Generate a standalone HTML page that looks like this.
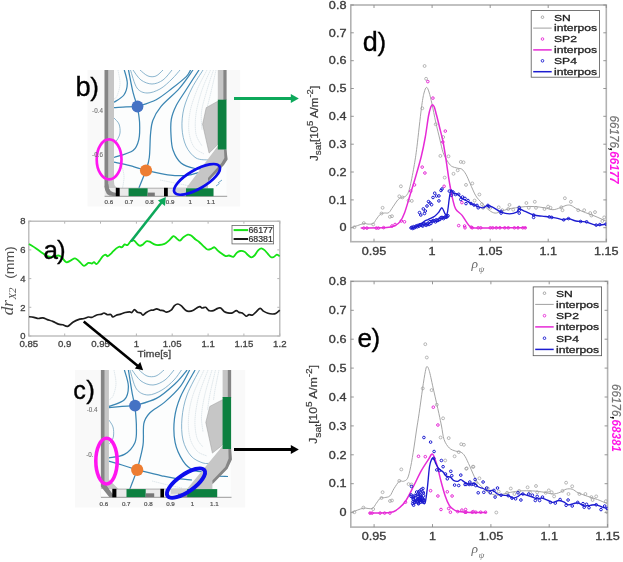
<!DOCTYPE html>
<html><head><meta charset="utf-8"><title>figure</title>
<style>
html,body{margin:0;padding:0;background:#fff;}
body{width:623px;height:562px;overflow:hidden;font-family:"Liberation Sans",sans-serif;}
svg{display:block;}
</style></head>
<body>
<svg width="623" height="562" viewBox="0 0 623 562">
<defs><filter id="soft" x="-2%" y="-2%" width="104%" height="104%"><feGaussianBlur stdDeviation="0.68"/></filter></defs>
<rect width="623" height="562" fill="#fff"/>
<g filter="url(#soft)">
<rect x="28.8" y="221.2" width="251.0" height="114.80000000000001" fill="#fff" stroke="#b6b6b6" stroke-width="1.3"/>
<path d="M28.8,336.0 v-2.5 M28.8,221.2 v2.5" stroke="#b6b6b6" stroke-width="1"/>
<path d="M64.7,336.0 v-2.5 M64.7,221.2 v2.5" stroke="#b6b6b6" stroke-width="1"/>
<path d="M100.5,336.0 v-2.5 M100.5,221.2 v2.5" stroke="#b6b6b6" stroke-width="1"/>
<path d="M136.4,336.0 v-2.5 M136.4,221.2 v2.5" stroke="#b6b6b6" stroke-width="1"/>
<path d="M172.2,336.0 v-2.5 M172.2,221.2 v2.5" stroke="#b6b6b6" stroke-width="1"/>
<path d="M208.1,336.0 v-2.5 M208.1,221.2 v2.5" stroke="#b6b6b6" stroke-width="1"/>
<path d="M243.9,336.0 v-2.5 M243.9,221.2 v2.5" stroke="#b6b6b6" stroke-width="1"/>
<path d="M279.8,336.0 v-2.5 M279.8,221.2 v2.5" stroke="#b6b6b6" stroke-width="1"/>
<path d="M28.8,336.0 h2.5 M279.8,336.0 h-2.5" stroke="#b6b6b6" stroke-width="1"/>
<text transform="translate(25.6,339.2) scale(1.05,1)" font-family="Liberation Sans" font-size="9" fill="#444" stroke="#444" stroke-width="0.3" text-anchor="end" font-weight="normal" font-style="normal" >0</text>
<path d="M28.8,307.3 h2.5 M279.8,307.3 h-2.5" stroke="#b6b6b6" stroke-width="1"/>
<text transform="translate(25.6,310.5) scale(1.05,1)" font-family="Liberation Sans" font-size="9" fill="#444" stroke="#444" stroke-width="0.3" text-anchor="end" font-weight="normal" font-style="normal" >2</text>
<path d="M28.8,278.6 h2.5 M279.8,278.6 h-2.5" stroke="#b6b6b6" stroke-width="1"/>
<text transform="translate(25.6,281.8) scale(1.05,1)" font-family="Liberation Sans" font-size="9" fill="#444" stroke="#444" stroke-width="0.3" text-anchor="end" font-weight="normal" font-style="normal" >4</text>
<path d="M28.8,249.9 h2.5 M279.8,249.9 h-2.5" stroke="#b6b6b6" stroke-width="1"/>
<text transform="translate(25.6,253.1) scale(1.05,1)" font-family="Liberation Sans" font-size="9" fill="#444" stroke="#444" stroke-width="0.3" text-anchor="end" font-weight="normal" font-style="normal" >6</text>
<path d="M28.8,221.2 h2.5 M279.8,221.2 h-2.5" stroke="#b6b6b6" stroke-width="1"/>
<text transform="translate(25.6,224.4) scale(1.05,1)" font-family="Liberation Sans" font-size="9" fill="#444" stroke="#444" stroke-width="0.3" text-anchor="end" font-weight="normal" font-style="normal" >8</text>
<text transform="translate(28.8,346.6) scale(1.07,1)" font-family="Liberation Sans" font-size="9" fill="#444" stroke="#444" stroke-width="0.3" text-anchor="middle" font-weight="normal" font-style="normal" >0.85</text>
<text transform="translate(64.7,346.6) scale(1.07,1)" font-family="Liberation Sans" font-size="9" fill="#444" stroke="#444" stroke-width="0.3" text-anchor="middle" font-weight="normal" font-style="normal" >0.9</text>
<text transform="translate(100.5,346.6) scale(1.07,1)" font-family="Liberation Sans" font-size="9" fill="#444" stroke="#444" stroke-width="0.3" text-anchor="middle" font-weight="normal" font-style="normal" >0.95</text>
<text transform="translate(136.4,346.6) scale(1.07,1)" font-family="Liberation Sans" font-size="9" fill="#444" stroke="#444" stroke-width="0.3" text-anchor="middle" font-weight="normal" font-style="normal" >1</text>
<text transform="translate(172.2,346.6) scale(1.07,1)" font-family="Liberation Sans" font-size="9" fill="#444" stroke="#444" stroke-width="0.3" text-anchor="middle" font-weight="normal" font-style="normal" >1.05</text>
<text transform="translate(208.1,346.6) scale(1.07,1)" font-family="Liberation Sans" font-size="9" fill="#444" stroke="#444" stroke-width="0.3" text-anchor="middle" font-weight="normal" font-style="normal" >1.1</text>
<text transform="translate(243.9,346.6) scale(1.07,1)" font-family="Liberation Sans" font-size="9" fill="#444" stroke="#444" stroke-width="0.3" text-anchor="middle" font-weight="normal" font-style="normal" >1.15</text>
<text transform="translate(279.8,346.6) scale(1.07,1)" font-family="Liberation Sans" font-size="9" fill="#444" stroke="#444" stroke-width="0.3" text-anchor="middle" font-weight="normal" font-style="normal" >1.2</text>
<text transform="translate(154.3,356.6) scale(1.15,1)" font-family="Liberation Sans" font-size="9" fill="#444" stroke="#444" stroke-width="0.3" text-anchor="middle" font-weight="normal" font-style="normal" >Time[s]</text>
<g transform="translate(12.9,281) rotate(-90)" fill="#505050"><text x="-34.3" y="0" font-family="Liberation Serif" font-style="italic" font-size="17.2">dr</text><text x="-18.6" y="3.3" font-family="Liberation Serif" font-style="italic" font-size="10.8">X2</text><text x="2.2" y="1.4" font-family="Liberation Sans" font-size="13.2" textLength="32.6" lengthAdjust="spacingAndGlyphs">(mm)</text></g>
<path d="M29.0,243.9 C30.2,244.7 33.8,246.8 36.1,248.4 C38.4,250.0 40.9,252.0 42.8,253.3 C44.7,254.6 45.6,255.6 47.3,256.2 C49.0,256.8 50.9,257.0 52.8,256.9 C54.6,256.8 56.9,255.4 58.4,255.5 C59.9,255.6 60.4,256.2 61.7,257.3 C63.0,258.4 64.7,261.6 66.2,262.2 C67.7,262.8 69.1,261.2 70.6,260.6 C72.1,260.0 73.6,258.2 75.1,258.4 C76.6,258.6 78.0,260.5 79.5,261.7 C81.0,262.9 82.5,265.6 84.0,265.8 C85.5,266.0 87.1,263.3 88.4,262.9 C89.7,262.5 90.9,263.6 91.8,263.5 C92.7,263.4 93.2,262.1 94.0,262.2 C94.8,262.3 95.8,264.3 96.7,264.0 C97.6,263.7 98.6,261.9 99.6,260.6 C100.6,259.3 101.9,257.2 102.9,256.2 C103.9,255.2 104.8,254.6 105.6,254.6 C106.4,254.6 106.8,256.5 107.8,256.2 C108.8,255.9 110.4,254.1 111.8,252.8 C113.2,251.5 115.0,249.4 116.3,248.4 C117.6,247.4 118.7,246.8 119.6,246.6 C120.5,246.4 120.9,247.7 121.8,247.3 C122.7,246.9 123.8,244.8 124.7,244.4 C125.6,244.0 126.4,245.6 127.4,245.1 C128.4,244.6 129.6,242.1 130.7,241.3 C131.8,240.6 133.2,240.3 134.1,240.6 C135.0,240.8 135.4,242.0 136.3,242.8 C137.2,243.7 138.5,245.4 139.6,245.7 C140.7,246.0 141.9,245.1 143.0,244.4 C144.1,243.7 145.2,241.8 146.3,241.3 C147.4,240.9 148.3,241.2 149.7,241.7 C151.0,242.2 152.9,243.8 154.4,244.4 C155.9,245.0 157.2,245.1 158.9,245.0 C160.6,244.9 162.8,244.6 164.5,243.9 C166.2,243.2 167.4,241.9 168.9,240.6 C170.4,239.3 172.1,236.5 173.4,236.1 C174.7,235.7 175.6,237.7 176.7,238.4 C177.8,239.2 178.9,240.8 180.0,240.6 C181.1,240.4 182.1,238.2 183.4,237.2 C184.7,236.2 186.5,234.9 187.8,234.6 C189.1,234.3 189.8,234.7 191.1,235.5 C192.4,236.3 194.3,238.5 195.6,239.5 C196.9,240.5 197.6,240.6 198.9,241.7 C200.2,242.8 202.0,244.8 203.4,246.1 C204.8,247.4 206.1,249.1 207.4,249.5 C208.7,249.9 210.0,249.2 211.2,248.8 C212.4,248.4 213.4,247.0 214.5,247.3 C215.6,247.6 216.7,249.6 217.8,250.6 C218.9,251.6 219.9,252.4 221.2,253.3 C222.5,254.2 224.3,255.7 225.6,256.1 C226.9,256.5 227.7,255.4 229.0,255.5 C230.3,255.6 232.1,257.2 233.4,256.8 C234.7,256.4 235.6,253.8 236.7,252.8 C237.8,251.8 238.8,251.2 240.1,251.0 C241.4,250.8 243.2,251.0 244.5,251.7 C245.8,252.4 246.8,254.1 247.9,255.0 C249.0,255.9 250.1,257.2 251.2,257.3 C252.3,257.4 253.4,256.6 254.5,255.5 C255.6,254.4 256.8,251.8 257.9,250.6 C259.0,249.4 260.1,248.5 261.2,248.4 C262.3,248.3 263.4,249.2 264.5,250.1 C265.6,251.0 266.8,252.7 267.9,253.9 C269.0,255.1 270.2,256.8 271.2,257.3 C272.2,257.8 273.2,257.2 274.1,256.8 C275.0,256.4 275.9,254.7 276.8,254.6 C277.7,254.5 279.2,255.9 279.7,256.1" fill="none" stroke="#12e212" stroke-width="1.8" stroke-linejoin="round"/>
<path d="M29.0,316.7 C29.8,316.8 32.3,317.1 33.9,317.4 C35.5,317.7 36.9,318.4 38.4,318.5 C39.9,318.6 41.3,317.7 42.8,317.9 C44.3,318.1 45.6,319.0 47.3,319.6 C49.0,320.2 50.9,320.6 52.8,321.4 C54.6,322.1 56.7,323.5 58.4,324.1 C60.1,324.7 61.2,324.4 62.8,324.8 C64.3,325.2 66.0,326.7 67.7,326.3 C69.4,325.9 71.1,323.4 72.9,322.3 C74.7,321.2 76.6,320.2 78.4,319.6 C80.2,319.0 82.3,318.9 84.0,318.5 C85.7,318.1 87.1,317.2 88.4,317.0 C89.7,316.8 90.5,317.7 91.8,317.4 C93.1,317.1 94.5,315.8 96.2,315.2 C97.9,314.6 100.5,314.5 101.8,314.1 C103.1,313.7 103.1,312.9 104.0,313.0 C104.9,313.1 106.3,314.4 107.4,314.7 C108.5,314.9 109.8,314.1 110.7,314.5 C111.6,314.9 112.0,316.9 112.9,317.0 C113.8,317.1 115.0,315.7 116.3,315.2 C117.6,314.7 119.2,314.6 120.7,314.1 C122.2,313.7 123.7,312.9 125.2,312.5 C126.7,312.1 128.5,311.8 129.6,311.8 C130.7,311.8 131.1,312.9 131.9,312.5 C132.7,312.1 133.6,309.6 134.5,309.6 C135.4,309.6 136.3,311.7 137.4,312.3 C138.5,312.9 139.9,312.5 140.8,313.0 C141.7,313.5 142.1,315.3 143.0,315.2 C143.9,315.1 145.0,313.3 146.3,312.5 C147.6,311.7 149.6,310.7 150.8,310.3 C152.0,309.9 152.3,310.4 153.3,310.2 C154.3,310.0 155.6,308.9 156.7,308.9 C157.8,308.9 158.9,309.9 160.0,310.2 C161.1,310.5 162.2,310.3 163.3,310.6 C164.4,310.9 165.4,312.3 166.7,312.2 C168.0,312.1 169.8,311.3 171.1,310.2 C172.4,309.1 173.4,306.7 174.5,305.7 C175.6,304.7 176.7,304.0 177.8,304.0 C178.9,304.0 179.8,304.7 181.1,305.7 C182.4,306.7 184.3,309.3 185.6,310.2 C186.9,311.1 187.6,311.3 188.9,311.3 C190.2,311.3 191.9,310.9 193.4,310.2 C194.9,309.5 196.7,307.9 197.8,307.3 C198.9,306.7 199.2,306.5 200.0,306.6 C200.8,306.7 201.4,307.9 202.3,308.0 C203.2,308.1 204.5,306.9 205.6,307.3 C206.7,307.7 207.6,310.1 208.9,310.6 C210.2,311.2 211.9,311.0 213.4,310.6 C214.9,310.2 216.6,308.8 217.8,308.4 C219.0,308.0 219.6,307.4 220.7,308.0 C221.8,308.6 223.3,311.0 224.5,311.8 C225.7,312.6 226.5,312.7 227.8,312.9 C229.1,313.1 230.9,313.3 232.3,312.9 C233.7,312.5 235.2,310.7 236.3,310.6 C237.4,310.5 238.0,312.0 239.0,312.4 C240.0,312.8 241.1,312.3 242.3,312.9 C243.5,313.5 245.0,315.9 246.1,316.2 C247.2,316.5 248.0,314.8 249.0,314.6 C250.0,314.4 251.2,315.5 252.3,315.1 C253.4,314.7 254.3,313.5 255.6,312.4 C256.9,311.3 258.8,308.6 260.1,308.4 C261.4,308.2 262.1,310.3 263.4,311.1 C264.7,311.9 266.4,312.8 267.9,313.3 C269.4,313.8 271.0,314.0 272.3,314.0 C273.6,314.0 274.5,314.1 275.7,313.5 C276.9,312.9 279.0,310.8 279.7,310.2" fill="none" stroke="#1c1c1c" stroke-width="1.7" stroke-linejoin="round"/>
<rect x="232" y="225.5" width="41.6" height="18.4" fill="#fff" stroke="#666" stroke-width="0.8"/>
<path d="M233.6,230.1 H248" stroke="#12e212" stroke-width="2"/>
<path d="M233.6,239 H248" stroke="#1c1c1c" stroke-width="2"/>
<text transform="translate(248.4,233.1) scale(1.07,1)" font-family="Liberation Sans" font-size="8.2" fill="#333" stroke="#333" stroke-width="0.22" text-anchor="start" font-weight="normal" font-style="normal" >66177</text>
<text transform="translate(248.4,242.0) scale(1.07,1)" font-family="Liberation Sans" font-size="8.2" fill="#333" stroke="#333" stroke-width="0.22" text-anchor="start" font-weight="normal" font-style="normal" >68381</text>
<clipPath id="clipb"><rect x="108" y="70" width="116" height="126"/></clipPath>
<rect x="87.5" y="70" width="152.7" height="136.5" fill="#f9f9f9"/>
<rect x="104.6" y="70" width="121.9" height="126" fill="#fcfdfd"/>
<g clip-path="url(#clipb)">
<path d="M207.0,70.0 C205.3,73.3 199.8,83.0 197.0,90.0 C194.2,97.0 191.3,105.0 190.0,112.0 C188.7,119.0 188.3,126.2 189.0,132.0 C189.7,137.8 191.5,143.3 194.0,147.0 C196.5,150.7 202.3,152.8 204.0,154.0" fill="none" stroke="#b4c4cf" stroke-width="0.8" stroke-dasharray="1.6 0.5" opacity="0.48"/>
<path d="M210.5,70.0 C209.1,73.3 204.4,82.7 202.0,90.0 C199.6,97.3 197.0,106.7 196.0,114.0 C195.0,121.3 195.0,128.7 196.0,134.0 C197.0,139.3 201.0,144.0 202.0,146.0" fill="none" stroke="#b4c4cf" stroke-width="0.8" stroke-dasharray="1.6 0.5" opacity="0.48"/>
<path d="M213.5,70.0 C212.4,73.3 209.0,83.0 207.0,90.0 C205.0,97.0 202.3,105.3 201.5,112.0 C200.7,118.7 201.9,127.0 202.0,130.0" fill="none" stroke="#b4c4cf" stroke-width="0.8" stroke-dasharray="1.6 0.5" opacity="0.48"/>
<path d="M216.0,70.0 C215.2,73.7 212.5,85.7 211.0,92.0 C209.5,98.3 207.7,105.3 207.0,108.0" fill="none" stroke="#b4c4cf" stroke-width="0.8" stroke-dasharray="1.6 0.5" opacity="0.48"/>
<path d="M118.0,70.0 C118.3,72.3 120.2,79.7 120.0,84.0 C119.8,88.3 118.0,93.5 117.0,96.0 C116.0,98.5 114.5,98.5 114.0,99.0" fill="none" stroke="#b4c4cf" stroke-width="0.8" stroke-dasharray="1.6 0.5" opacity="0.48"/>
<path d="M121.0,196.0 C121.5,193.0 123.8,183.0 124.0,178.0 C124.2,173.0 122.3,168.0 122.0,166.0" fill="none" stroke="#b4c4cf" stroke-width="0.8" stroke-dasharray="1.6 0.5" opacity="0.48"/>
<path d="M160.0,180.0 C162.5,180.5 170.0,182.0 175.0,183.0 C180.0,184.0 187.5,185.5 190.0,186.0" fill="none" stroke="#b4c4cf" stroke-width="0.8" stroke-dasharray="1.6 0.5" opacity="0.48"/>
<path d="M133.0,70.0 C134.3,71.7 137.8,77.7 141.0,80.0 C144.2,82.3 148.3,84.0 152.0,84.0 C155.7,84.0 159.7,82.3 163.0,80.0 C166.3,77.7 170.5,71.7 172.0,70.0" fill="none" stroke="#6fa3c2" stroke-width="0.9" opacity="0.9"/>
<path d="M140.0,70.0 C141.3,71.0 145.3,75.0 148.0,76.0 C150.7,77.0 153.5,77.0 156.0,76.0 C158.5,75.0 161.8,71.0 163.0,70.0" fill="none" stroke="#6fa3c2" stroke-width="0.9" opacity="0.9"/>
<path d="M130.5,70.0 C131.6,73.0 134.2,84.2 137.0,88.0 C139.8,91.8 143.2,92.8 147.0,93.0 C150.8,93.2 155.8,91.3 160.0,89.0 C164.2,86.7 168.7,82.2 172.0,79.0 C175.3,75.8 178.7,71.5 180.0,70.0" fill="none" stroke="#6fa3c2" stroke-width="0.9" opacity="0.9"/>
<path d="M114.0,118.0 C114.8,119.0 118.0,121.5 119.0,124.0 C120.0,126.5 120.3,130.3 120.0,133.0 C119.7,135.7 118.0,138.3 117.0,140.0 C116.0,141.7 114.5,142.5 114.0,143.0" fill="none" stroke="#6fa3c2" stroke-width="0.9" opacity="0.9"/>
<path d="M203.0,70.0 C201.2,73.0 195.2,81.7 192.0,88.0 C188.8,94.3 185.7,101.3 184.0,108.0 C182.3,114.7 181.7,121.7 182.0,128.0 C182.3,134.3 183.7,141.0 186.0,146.0 C188.3,151.0 192.2,155.7 196.0,158.0 C199.8,160.3 206.8,159.7 209.0,160.0" fill="none" stroke="#6fa3c2" stroke-width="0.9" opacity="0.9"/>
<path d="M124.3,70.0 C124.8,72.2 127.4,79.3 127.3,83.5 C127.2,87.7 126.1,91.9 123.9,95.0 C121.7,98.1 115.7,101.1 114.0,102.3" fill="none" stroke="#3b86b3" stroke-width="1.25"/>
<path d="M128.5,70.0 C129.3,73.8 131.6,86.6 133.1,92.7 C134.6,98.8 136.8,104.2 137.5,106.5" fill="none" stroke="#3b86b3" stroke-width="1.25"/>
<path d="M137.5,106.5 C135.6,106.5 129.9,106.6 126.0,106.8 C122.1,107.0 116.0,107.5 114.0,107.6" fill="none" stroke="#3b86b3" stroke-width="1.25"/>
<path d="M137.5,106.5 C140.6,105.4 150.4,102.8 156.2,99.7 C162.0,96.6 167.4,91.9 172.4,88.1 C177.4,84.2 183.3,79.6 186.3,76.6 C189.3,73.6 189.9,71.1 190.6,70.0" fill="none" stroke="#3b86b3" stroke-width="1.25"/>
<path d="M137.5,106.5 C137.8,109.2 139.4,117.4 139.6,122.8 C139.8,128.2 140.0,134.4 138.9,139.0 C137.8,143.6 137.2,147.4 133.1,150.5 C128.9,153.6 117.2,156.3 114.0,157.5" fill="none" stroke="#3b86b3" stroke-width="1.25"/>
<path d="M146.0,170.5 C143.3,169.7 135.3,167.0 130.0,165.6 C124.7,164.2 116.7,162.7 114.0,162.1" fill="none" stroke="#3b86b3" stroke-width="1.25"/>
<path d="M146.0,170.5 C149.6,171.2 161.1,174.0 167.8,174.8 C174.5,175.6 180.8,176.0 186.3,175.5 C191.8,175.0 198.6,172.6 201.0,172.0" fill="none" stroke="#3b86b3" stroke-width="1.25"/>
<path d="M146.0,170.5 L138.9,188.0" fill="none" stroke="#3b86b3" stroke-width="1.25"/>
<path d="M146.0,170.5 C146.6,168.3 148.6,163.5 149.3,157.5 C150.1,151.5 149.9,140.6 150.5,134.4 C151.1,128.2 151.1,125.1 152.8,120.5 C154.5,115.9 156.5,111.9 160.9,106.6 C165.3,101.2 174.1,94.5 179.4,88.4 C184.8,82.3 190.7,73.1 193.0,70.0" fill="none" stroke="#3b86b3" stroke-width="1.25"/>
<path d="M199.0,70.0 C196.8,73.3 189.8,84.0 186.0,90.0 C182.2,96.0 178.4,101.1 176.0,106.0 C173.6,110.9 172.1,114.5 171.3,119.3 C170.5,124.1 170.7,129.9 171.0,135.0 C171.3,140.1 171.3,145.3 173.0,150.0 C174.7,154.7 177.3,159.9 181.0,163.0 C184.7,166.1 190.7,167.6 195.0,168.5 C199.3,169.4 205.1,168.6 207.1,168.6" fill="none" stroke="#3b86b3" stroke-width="1.25"/>
</g>
<path d="M104.6,70 H114 V182 Q114,188 120,188 H128 V196 H112 Q104.6,196 104.6,186 Z" fill="#c6c6c6"/>
<path d="M104.6,70 H108.2 V184 Q108.2,192.5 117,193 V196 H113 Q104.6,196 104.6,186 Z" fill="#858585"/>
<rect x="104.6" y="188" width="109" height="8.2" fill="#eaeaea"/>
<path d="M120,188.2 H186" stroke="#a8a8a8" stroke-width="0.9"/>
<path d="M104.6,196.3 H227.2" stroke="#9a9a9a" stroke-width="1"/>
<path d="M104.6,186 Q104.6,196 113,196 L117,196 L117,193 Q108.2,192.5 108.2,184 Z" fill="#858585"/>
<rect x="115.8" y="187.8" width="3.9" height="8.4" fill="#000"/>
<rect x="128.6" y="188.3" width="19" height="7.8" fill="#0b8040"/>
<rect x="147.6" y="192.6" width="7.2" height="3.5" fill="#777"/>
<rect x="164" y="187.8" width="3.8" height="8.5" fill="#000"/>
<rect x="174.5" y="188.3" width="11.7" height="4.6" fill="#d0d0d0"/>
<rect x="217.8" y="70" width="8.7" height="30" fill="#c6c6c6"/>
<rect x="223.4" y="70" width="3.1" height="30" fill="#858585"/>
<path d="M217.8,101.2 L206.2,107.7 L202.6,124.3 L209.1,153.1 L217.8,144.5 Z" fill="#c6c6c6" stroke="#999" stroke-width="0.5"/>
<path d="M217.8,146 L226.5,149.5 L227.3,159 L223.6,164 L208,180.5 L208,188.2 L186,188.2 Z" fill="#c6c6c6"/>
<path d="M226.5,149.5 L227.6,159.5 L224,165 L208,181.5 L208,178 L221.5,163 L224.4,158 L224,149.5 Z" fill="#858585"/>
<rect x="217.8" y="99.7" width="8.7" height="49.8" fill="#0b8040"/>
<rect x="186" y="188.3" width="27.5" height="7.9" fill="#0b8040"/>
<path d="M218,183 L222,180 M216,186 L219.5,183.5" stroke="#4f93bb" stroke-width="0.8"/>
<circle cx="137.5" cy="106.5" r="5.9" fill="#4472c4"/>
<circle cx="146" cy="170.5" r="6.1" fill="#ed7d31"/>
<ellipse cx="109.1" cy="159.4" rx="12.4" ry="20" fill="none" stroke="#ff19f0" stroke-width="2.7"/>
<ellipse cx="0" cy="0" rx="26" ry="9.4" transform="translate(197,179.4) rotate(-30)" fill="none" stroke="#0a0aee" stroke-width="2.7"/>
<text transform="translate(108.9,204.4)" font-family="Liberation Sans" font-size="6.2" fill="#555" stroke="#555" stroke-width="0.22" text-anchor="middle" font-weight="normal" font-style="normal" >0.6</text>
<text transform="translate(129.0,204.4)" font-family="Liberation Sans" font-size="6.2" fill="#555" stroke="#555" stroke-width="0.22" text-anchor="middle" font-weight="normal" font-style="normal" >0.7</text>
<text transform="translate(149.5,204.4)" font-family="Liberation Sans" font-size="6.2" fill="#555" stroke="#555" stroke-width="0.22" text-anchor="middle" font-weight="normal" font-style="normal" >0.8</text>
<text transform="translate(170.1,204.4)" font-family="Liberation Sans" font-size="6.2" fill="#555" stroke="#555" stroke-width="0.22" text-anchor="middle" font-weight="normal" font-style="normal" >0.9</text>
<text transform="translate(190.3,204.4)" font-family="Liberation Sans" font-size="6.2" fill="#555" stroke="#555" stroke-width="0.22" text-anchor="middle" font-weight="normal" font-style="normal" >1</text>
<text transform="translate(211.0,204.4)" font-family="Liberation Sans" font-size="6.2" fill="#555" stroke="#555" stroke-width="0.22" text-anchor="middle" font-weight="normal" font-style="normal" >1.1</text>
<text transform="translate(97.5,113.4)" font-family="Liberation Sans" font-size="6.3" fill="#707070" stroke="#707070" stroke-width="0.1" text-anchor="middle" font-weight="normal" font-style="normal" >-0.4</text>
<text transform="translate(97.5,157.0)" font-family="Liberation Sans" font-size="6.3" fill="#707070" stroke="#707070" stroke-width="0.1" text-anchor="middle" font-weight="normal" font-style="normal" >-0.6</text>
<clipPath id="clipc"><rect x="104.5" y="370" width="124" height="127"/></clipPath>
<rect x="75" y="370" width="170.2" height="137.5" fill="#f9f9f9"/>
<rect x="100.9" y="370" width="130.2" height="127" fill="#fcfdfd"/>
<g clip-path="url(#clipc)">
<path d="M204.0,370.0 C202.2,374.2 195.6,387.0 193.0,395.0 C190.4,403.0 189.0,410.8 188.5,418.0 C188.0,425.2 188.6,432.5 190.0,438.0 C191.4,443.5 194.2,448.0 197.0,451.0 C199.8,454.0 205.3,455.2 207.0,456.0" fill="none" stroke="#b4c4cf" stroke-width="0.8" stroke-dasharray="1.6 0.5" opacity="0.48"/>
<path d="M208.0,370.0 C206.5,374.2 201.2,386.7 199.0,395.0 C196.8,403.3 195.3,412.8 195.0,420.0 C194.7,427.2 195.7,433.5 197.0,438.0 C198.3,442.5 202.0,445.5 203.0,447.0" fill="none" stroke="#b4c4cf" stroke-width="0.8" stroke-dasharray="1.6 0.5" opacity="0.48"/>
<path d="M212.0,370.0 C210.8,374.0 206.8,386.3 205.0,394.0 C203.2,401.7 201.8,409.7 201.5,416.0 C201.2,422.3 202.8,429.3 203.0,432.0" fill="none" stroke="#b4c4cf" stroke-width="0.8" stroke-dasharray="1.6 0.5" opacity="0.48"/>
<path d="M215.5,370.0 C214.6,374.0 211.3,387.3 210.0,394.0 C208.7,400.7 207.9,407.3 207.5,410.0" fill="none" stroke="#b4c4cf" stroke-width="0.8" stroke-dasharray="1.6 0.5" opacity="0.48"/>
<path d="M219.0,370.0 C218.3,373.3 215.9,385.0 215.0,390.0 C214.1,395.0 213.8,398.3 213.5,400.0" fill="none" stroke="#b4c4cf" stroke-width="0.8" stroke-dasharray="1.6 0.5" opacity="0.48"/>
<path d="M114.0,370.0 C114.3,372.3 116.2,379.7 116.0,384.0 C115.8,388.3 114.2,393.3 113.0,396.0 C111.8,398.7 109.6,399.3 108.9,400.0" fill="none" stroke="#b4c4cf" stroke-width="0.8" stroke-dasharray="1.6 0.5" opacity="0.48"/>
<path d="M152.0,481.0 C154.7,481.7 163.0,483.8 168.0,485.0 C173.0,486.2 179.7,487.5 182.0,488.0" fill="none" stroke="#b4c4cf" stroke-width="0.8" stroke-dasharray="1.6 0.5" opacity="0.48"/>
<path d="M132.0,370.0 C133.5,371.8 137.5,378.5 141.0,381.0 C144.5,383.5 149.0,385.2 153.0,385.0 C157.0,384.8 161.5,382.5 165.0,380.0 C168.5,377.5 172.5,371.7 174.0,370.0" fill="none" stroke="#6fa3c2" stroke-width="0.9" opacity="0.9"/>
<path d="M139.0,370.0 C140.3,371.0 144.2,375.0 147.0,376.0 C149.8,377.0 153.2,377.0 156.0,376.0 C158.8,375.0 162.7,371.0 164.0,370.0" fill="none" stroke="#6fa3c2" stroke-width="0.9" opacity="0.9"/>
<path d="M130.0,370.0 C131.1,373.2 133.5,384.8 136.5,389.0 C139.5,393.2 143.8,394.8 148.0,395.0 C152.2,395.2 157.7,392.5 162.0,390.0 C166.3,387.5 170.8,383.3 174.0,380.0 C177.2,376.7 180.2,371.7 181.5,370.0" fill="none" stroke="#6fa3c2" stroke-width="0.9" opacity="0.9"/>
<path d="M108.9,420.0 C109.6,421.2 112.2,424.3 113.0,427.0 C113.8,429.7 113.8,433.5 113.5,436.0 C113.2,438.5 111.8,440.7 111.0,442.0 C110.2,443.3 109.2,443.7 108.9,444.0" fill="none" stroke="#6fa3c2" stroke-width="0.9" opacity="0.9"/>
<path d="M199.5,370.0 C197.4,374.2 189.9,387.0 187.0,395.0 C184.1,403.0 182.7,410.5 182.0,418.0 C181.3,425.5 181.5,433.7 183.0,440.0 C184.5,446.3 187.7,452.2 191.0,456.0 C194.3,459.8 199.5,461.8 203.0,463.0 C206.5,464.2 210.5,463.0 212.0,463.0" fill="none" stroke="#6fa3c2" stroke-width="0.9" opacity="0.9"/>
<path d="M124.4,370.0 C125.1,372.7 128.4,381.4 128.4,386.4 C128.4,391.3 127.7,396.4 124.4,399.7 C121.2,403.0 111.5,405.3 108.9,406.4" fill="none" stroke="#3b86b3" stroke-width="1.25"/>
<path d="M128.4,370.0 C129.1,374.1 131.3,388.5 132.4,394.4 C133.5,400.3 134.6,403.7 135.0,405.6" fill="none" stroke="#3b86b3" stroke-width="1.25"/>
<path d="M135.0,405.6 C132.8,405.7 126.3,406.0 122.0,406.4 C117.7,406.8 111.1,407.5 108.9,407.7" fill="none" stroke="#3b86b3" stroke-width="1.25"/>
<path d="M135.0,405.6 C138.6,404.4 149.7,402.0 156.4,398.4 C163.1,394.8 170.0,388.4 175.1,383.7 C180.2,379.0 185.1,372.3 187.1,370.0" fill="none" stroke="#3b86b3" stroke-width="1.25"/>
<path d="M135.0,405.6 C135.2,409.1 136.4,420.3 136.4,426.4 C136.4,432.5 137.0,437.7 135.0,442.4 C133.0,447.1 128.8,451.8 124.4,454.4 C120.1,457.0 111.5,457.3 108.9,457.9" fill="none" stroke="#3b86b3" stroke-width="1.25"/>
<path d="M137.2,469.9 C134.7,469.1 126.7,466.5 122.0,465.0 C117.3,463.5 111.1,461.8 108.9,461.1" fill="none" stroke="#3b86b3" stroke-width="1.25"/>
<path d="M137.2,469.9 C141.3,470.9 155.4,474.4 161.7,475.8 C168.0,477.2 170.0,477.7 175.1,478.4 C180.2,479.1 189.2,479.7 192.0,480.0" fill="none" stroke="#3b86b3" stroke-width="1.25"/>
<path d="M137.2,469.9 L129.7,489.5" fill="none" stroke="#3b86b3" stroke-width="1.25"/>
<path d="M137.2,469.9 C138.2,465.8 141.9,452.8 143.0,445.1 C144.1,437.4 142.7,429.1 143.8,423.7 C144.9,418.3 146.3,416.6 149.7,413.0 C153.1,409.4 159.3,406.8 164.4,402.4 C169.5,398.0 176.2,391.8 180.4,386.4 C184.6,381.0 188.1,372.7 189.7,370.0" fill="none" stroke="#3b86b3" stroke-width="1.25"/>
<path d="M195.1,370.0 C192.7,374.5 183.8,388.9 180.4,397.0 C177.0,405.1 175.4,410.8 174.5,418.4 C173.6,426.0 173.7,435.3 175.1,442.4 C176.5,449.5 180.0,456.4 183.1,461.1 C186.2,465.8 189.7,468.6 193.7,470.4 C197.7,472.2 204.9,471.6 207.1,471.8" fill="none" stroke="#3b86b3" stroke-width="1.25"/>
<path d="M205.0,470.0 C206.7,470.9 211.2,474.4 215.0,475.5 C218.8,476.6 225.8,476.3 228.0,476.5" fill="none" stroke="#3b86b3" stroke-width="1.25"/>
</g>
<path d="M100.9,370 H108.9 V479.5 L118.5,489 H126.5 V497.2 H100.9 Z" fill="#c6c6c6"/>
<rect x="100.9" y="489" width="116.3" height="8.2" fill="#eaeaea"/>
<rect x="100.9" y="489" width="9" height="8.2" fill="#fcfcfc"/>
<path d="M100.9,370 H104.5 V482.5 L114.8,497.2 H109.4 L100.9,486.5 Z" fill="#858585"/>
<path d="M116,489.1 H187" stroke="#a8a8a8" stroke-width="0.9"/>
<path d="M100.9,497.3 H231.5" stroke="#9a9a9a" stroke-width="1"/>
<rect x="112.3" y="488.8" width="4.1" height="8.5" fill="#000"/>
<rect x="126.5" y="489.1" width="19.2" height="8" fill="#0b8040"/>
<rect x="145.7" y="493.3" width="8.5" height="3.8" fill="#777"/>
<rect x="160.4" y="488.8" width="3.6" height="8.5" fill="#000"/>
<rect x="171" y="489.2" width="16.1" height="4.6" fill="#d0d0d0"/>
<rect x="178" y="493.5" width="9" height="3.6" fill="#8a8a8a"/>
<rect x="222.6" y="370" width="8.5" height="28" fill="#c6c6c6"/>
<rect x="227.8" y="370" width="3.3" height="28" fill="#858585"/>
<path d="M222.6,399.7 L209.8,406.4 L205.8,422.4 L212.4,453.1 L222.6,445 Z" fill="#c6c6c6" stroke="#999" stroke-width="0.5"/>
<path d="M222.6,446 L231.1,449 L231.6,459 L227.3,468 L212.4,483 L212.4,489.1 L187,489.1 Z" fill="#c6c6c6"/>
<path d="M231.1,449 L231.9,459.5 L227.6,468.8 L212.4,484.2 L212.4,480.5 L225.2,467 L228.6,458.5 L228.4,449 Z" fill="#858585"/>
<rect x="222.6" y="397" width="8.5" height="52" fill="#0b8040"/>
<rect x="187.1" y="489.1" width="30.1" height="8" fill="#0b8040"/>
<circle cx="135" cy="405.6" r="5.9" fill="#4472c4"/>
<circle cx="137.2" cy="469.9" r="6.1" fill="#ed7d31"/>
<ellipse cx="106.5" cy="461.1" rx="10.7" ry="22.9" fill="none" stroke="#ff19f0" stroke-width="3.6"/>
<ellipse cx="0" cy="0" rx="22.5" ry="8.6" transform="translate(186,483.1) rotate(-35)" fill="none" stroke="#0a0aee" stroke-width="3.9"/>
<text transform="translate(103.8,505.8)" font-family="Liberation Sans" font-size="6.2" fill="#555" stroke="#555" stroke-width="0.22" text-anchor="middle" font-weight="normal" font-style="normal" >0.6</text>
<text transform="translate(126.2,505.8)" font-family="Liberation Sans" font-size="6.2" fill="#555" stroke="#555" stroke-width="0.22" text-anchor="middle" font-weight="normal" font-style="normal" >0.7</text>
<text transform="translate(148.4,505.8)" font-family="Liberation Sans" font-size="6.2" fill="#555" stroke="#555" stroke-width="0.22" text-anchor="middle" font-weight="normal" font-style="normal" >0.8</text>
<text transform="translate(170.5,505.8)" font-family="Liberation Sans" font-size="6.2" fill="#555" stroke="#555" stroke-width="0.22" text-anchor="middle" font-weight="normal" font-style="normal" >0.9</text>
<text transform="translate(192.4,505.8)" font-family="Liberation Sans" font-size="6.2" fill="#555" stroke="#555" stroke-width="0.22" text-anchor="middle" font-weight="normal" font-style="normal" >1</text>
<text transform="translate(214.3,505.8)" font-family="Liberation Sans" font-size="6.2" fill="#555" stroke="#555" stroke-width="0.22" text-anchor="middle" font-weight="normal" font-style="normal" >1.1</text>
<text transform="translate(92.1,412.1)" font-family="Liberation Sans" font-size="6.3" fill="#707070" stroke="#707070" stroke-width="0.1" text-anchor="middle" font-weight="normal" font-style="normal" >-0.4</text>
<text transform="translate(89.9,456.9)" font-family="Liberation Sans" font-size="6.3" fill="#707070" stroke="#707070" stroke-width="0.1" text-anchor="middle" font-weight="normal" font-style="normal" >-0.</text>
<path d="M130.9,241.5 L161.5,202.5" stroke="#0ba85a" stroke-width="2.6"/>
<path d="M165.8,197.0 L157.9,200.6 L165.0,206.1 Z" fill="#0ba85a"/>
<path d="M234,98.5 H292" stroke="#0ba85a" stroke-width="3.1"/>
<path d="M298.8,98.5 L290.8,94.1 L290.8,102.9 Z" fill="#0ba85a"/>
<path d="M83.7,321.6 L138.5,366.5" stroke="#000" stroke-width="2.6"/>
<path d="M143.1,370.2 L134.8,368.5 L140.3,361.9 Z" fill="#000"/>
<path d="M234,449.5 H292" stroke="#000" stroke-width="3.1"/>
<path d="M298.8,449.5 L290.8,445.1 L290.8,453.9 Z" fill="#000"/>
<rect x="350.8" y="5.0" width="255.49999999999994" height="236.7" fill="#fff" stroke="#b2b2b2" stroke-width="1.6"/>
<path d="M350.8,227.7 h3 M606.3,227.7 h-3" stroke="#8a8a8a" stroke-width="0.9"/>
<text transform="translate(346.4,231.4) scale(1.19,1)" font-family="Liberation Sans" font-size="10.6" fill="#3a3a3a" stroke="#3a3a3a" stroke-width="0.32" text-anchor="end" font-weight="normal" font-style="normal" >0</text>
<path d="M350.8,199.9 h3 M606.3,199.9 h-3" stroke="#8a8a8a" stroke-width="0.9"/>
<text transform="translate(346.4,203.6) scale(1.19,1)" font-family="Liberation Sans" font-size="10.6" fill="#3a3a3a" stroke="#3a3a3a" stroke-width="0.32" text-anchor="end" font-weight="normal" font-style="normal" >0.1</text>
<path d="M350.8,172.0 h3 M606.3,172.0 h-3" stroke="#8a8a8a" stroke-width="0.9"/>
<text transform="translate(346.4,175.7) scale(1.19,1)" font-family="Liberation Sans" font-size="10.6" fill="#3a3a3a" stroke="#3a3a3a" stroke-width="0.32" text-anchor="end" font-weight="normal" font-style="normal" >0.2</text>
<path d="M350.8,144.2 h3 M606.3,144.2 h-3" stroke="#8a8a8a" stroke-width="0.9"/>
<text transform="translate(346.4,147.9) scale(1.19,1)" font-family="Liberation Sans" font-size="10.6" fill="#3a3a3a" stroke="#3a3a3a" stroke-width="0.32" text-anchor="end" font-weight="normal" font-style="normal" >0.3</text>
<path d="M350.8,116.3 h3 M606.3,116.3 h-3" stroke="#8a8a8a" stroke-width="0.9"/>
<text transform="translate(346.4,120.0) scale(1.19,1)" font-family="Liberation Sans" font-size="10.6" fill="#3a3a3a" stroke="#3a3a3a" stroke-width="0.32" text-anchor="end" font-weight="normal" font-style="normal" >0.4</text>
<path d="M350.8,88.5 h3 M606.3,88.5 h-3" stroke="#8a8a8a" stroke-width="0.9"/>
<text transform="translate(346.4,92.2) scale(1.19,1)" font-family="Liberation Sans" font-size="10.6" fill="#3a3a3a" stroke="#3a3a3a" stroke-width="0.32" text-anchor="end" font-weight="normal" font-style="normal" >0.5</text>
<path d="M350.8,60.7 h3 M606.3,60.7 h-3" stroke="#8a8a8a" stroke-width="0.9"/>
<text transform="translate(346.4,64.4) scale(1.19,1)" font-family="Liberation Sans" font-size="10.6" fill="#3a3a3a" stroke="#3a3a3a" stroke-width="0.32" text-anchor="end" font-weight="normal" font-style="normal" >0.6</text>
<path d="M350.8,32.8 h3 M606.3,32.8 h-3" stroke="#8a8a8a" stroke-width="0.9"/>
<text transform="translate(346.4,36.5) scale(1.19,1)" font-family="Liberation Sans" font-size="10.6" fill="#3a3a3a" stroke="#3a3a3a" stroke-width="0.32" text-anchor="end" font-weight="normal" font-style="normal" >0.7</text>
<path d="M350.8,5.0 h3 M606.3,5.0 h-3" stroke="#8a8a8a" stroke-width="0.9"/>
<text transform="translate(346.4,8.7) scale(1.19,1)" font-family="Liberation Sans" font-size="10.6" fill="#3a3a3a" stroke="#3a3a3a" stroke-width="0.32" text-anchor="end" font-weight="normal" font-style="normal" >0.8</text>
<path d="M374.0,241.7 v-3 M374.0,5.0 v3" stroke="#8a8a8a" stroke-width="0.9"/>
<text transform="translate(374.0,254.5) scale(1.19,1)" font-family="Liberation Sans" font-size="10.6" fill="#3a3a3a" stroke="#3a3a3a" stroke-width="0.32" text-anchor="middle" font-weight="normal" font-style="normal" >0.95</text>
<path d="M432.1,241.7 v-3 M432.1,5.0 v3" stroke="#8a8a8a" stroke-width="0.9"/>
<text transform="translate(432.1,254.5) scale(1.19,1)" font-family="Liberation Sans" font-size="10.6" fill="#3a3a3a" stroke="#3a3a3a" stroke-width="0.32" text-anchor="middle" font-weight="normal" font-style="normal" >1</text>
<path d="M490.2,241.7 v-3 M490.2,5.0 v3" stroke="#8a8a8a" stroke-width="0.9"/>
<text transform="translate(490.2,254.5) scale(1.19,1)" font-family="Liberation Sans" font-size="10.6" fill="#3a3a3a" stroke="#3a3a3a" stroke-width="0.32" text-anchor="middle" font-weight="normal" font-style="normal" >1.05</text>
<path d="M548.2,241.7 v-3 M548.2,5.0 v3" stroke="#8a8a8a" stroke-width="0.9"/>
<text transform="translate(548.2,254.5) scale(1.19,1)" font-family="Liberation Sans" font-size="10.6" fill="#3a3a3a" stroke="#3a3a3a" stroke-width="0.32" text-anchor="middle" font-weight="normal" font-style="normal" >1.1</text>
<path d="M606.3,241.7 v-3 M606.3,5.0 v3" stroke="#8a8a8a" stroke-width="0.9"/>
<text transform="translate(606.3,254.5) scale(1.19,1)" font-family="Liberation Sans" font-size="10.6" fill="#3a3a3a" stroke="#3a3a3a" stroke-width="0.32" text-anchor="middle" font-weight="normal" font-style="normal" >1.15</text>
<text transform="translate(471.6,267.6)" font-family="Liberation Serif" font-style="italic" font-size="13.5" fill="#6a6a6a"><tspan>&#961;</tspan><tspan font-size="9" dx="0.6" dy="4.2">&#968;</tspan></text>
<g transform="translate(318.0,123.4) rotate(-90) scale(1.12,1)"><text font-family="Liberation Sans" font-size="10.3" fill="#3c3c3c" stroke="#3c3c3c" stroke-width="0.2" text-anchor="middle"><tspan>J</tspan><tspan font-size="8.8" dy="3.4">sat</tspan><tspan dy="-3.4">[10</tspan><tspan font-size="8.6" dy="-5.4">5</tspan><tspan dy="5.4"> A/m</tspan><tspan font-size="8.6" dy="-5.4">-2</tspan><tspan dy="5.4">]</tspan></text></g>
<clipPath id="cd"><rect x="350.8" y="5.0" width="255.49999999999994" height="236.7"/></clipPath><g clip-path="url(#cd)">
<circle cx="424.6" cy="66.0" r="1.45" fill="none" stroke="#a0a0a0" stroke-width="0.75"/>
<circle cx="426.1" cy="78.8" r="1.45" fill="none" stroke="#a0a0a0" stroke-width="0.75"/>
<circle cx="422.3" cy="108.3" r="1.45" fill="none" stroke="#a0a0a0" stroke-width="0.75"/>
<circle cx="435.7" cy="124.3" r="1.45" fill="none" stroke="#a0a0a0" stroke-width="0.75"/>
<circle cx="443.2" cy="137.1" r="1.45" fill="none" stroke="#a0a0a0" stroke-width="0.75"/>
<circle cx="440.4" cy="155.9" r="1.45" fill="none" stroke="#a0a0a0" stroke-width="0.75"/>
<circle cx="448.5" cy="156.3" r="1.45" fill="none" stroke="#a0a0a0" stroke-width="0.75"/>
<circle cx="354.4" cy="227.2" r="1.45" fill="none" stroke="#a0a0a0" stroke-width="0.75"/>
<circle cx="363.8" cy="223.1" r="1.45" fill="none" stroke="#a0a0a0" stroke-width="0.75"/>
<circle cx="373.2" cy="224.5" r="1.45" fill="none" stroke="#a0a0a0" stroke-width="0.75"/>
<circle cx="382.6" cy="207.8" r="1.45" fill="none" stroke="#a0a0a0" stroke-width="0.75"/>
<circle cx="381.5" cy="213.5" r="1.45" fill="none" stroke="#a0a0a0" stroke-width="0.75"/>
<circle cx="392.0" cy="216.2" r="1.45" fill="none" stroke="#a0a0a0" stroke-width="0.75"/>
<circle cx="389.9" cy="216.8" r="1.45" fill="none" stroke="#a0a0a0" stroke-width="0.75"/>
<circle cx="400.9" cy="186.3" r="1.45" fill="none" stroke="#a0a0a0" stroke-width="0.75"/>
<circle cx="399.3" cy="196.3" r="1.45" fill="none" stroke="#a0a0a0" stroke-width="0.75"/>
<circle cx="402.4" cy="197.4" r="1.45" fill="none" stroke="#a0a0a0" stroke-width="0.75"/>
<circle cx="408.6" cy="200.5" r="1.45" fill="none" stroke="#a0a0a0" stroke-width="0.75"/>
<circle cx="411.8" cy="200.9" r="1.45" fill="none" stroke="#a0a0a0" stroke-width="0.75"/>
<circle cx="444.7" cy="177.6" r="1.45" fill="none" stroke="#a0a0a0" stroke-width="0.75"/>
<circle cx="453.5" cy="173.8" r="1.45" fill="none" stroke="#a0a0a0" stroke-width="0.75"/>
<circle cx="457.7" cy="170.3" r="1.45" fill="none" stroke="#a0a0a0" stroke-width="0.75"/>
<circle cx="460.8" cy="161.9" r="1.45" fill="none" stroke="#a0a0a0" stroke-width="0.75"/>
<circle cx="463.5" cy="162.3" r="1.45" fill="none" stroke="#a0a0a0" stroke-width="0.75"/>
<circle cx="466.0" cy="184.9" r="1.45" fill="none" stroke="#a0a0a0" stroke-width="0.75"/>
<circle cx="472.3" cy="183.4" r="1.45" fill="none" stroke="#a0a0a0" stroke-width="0.75"/>
<circle cx="474.6" cy="200.6" r="1.45" fill="none" stroke="#a0a0a0" stroke-width="0.75"/>
<circle cx="479.4" cy="194.5" r="1.45" fill="none" stroke="#a0a0a0" stroke-width="0.75"/>
<circle cx="481.9" cy="204.2" r="1.45" fill="none" stroke="#a0a0a0" stroke-width="0.75"/>
<circle cx="483.1" cy="207.8" r="1.45" fill="none" stroke="#a0a0a0" stroke-width="0.75"/>
<circle cx="490.3" cy="207.8" r="1.45" fill="none" stroke="#a0a0a0" stroke-width="0.75"/>
<circle cx="498.7" cy="207.3" r="1.45" fill="none" stroke="#a0a0a0" stroke-width="0.75"/>
<circle cx="502.3" cy="210.2" r="1.45" fill="none" stroke="#a0a0a0" stroke-width="0.75"/>
<circle cx="508.3" cy="209.0" r="1.45" fill="none" stroke="#a0a0a0" stroke-width="0.75"/>
<circle cx="509.5" cy="204.9" r="1.45" fill="none" stroke="#a0a0a0" stroke-width="0.75"/>
<circle cx="513.2" cy="209.7" r="1.45" fill="none" stroke="#a0a0a0" stroke-width="0.75"/>
<circle cx="519.2" cy="207.3" r="1.45" fill="none" stroke="#a0a0a0" stroke-width="0.75"/>
<circle cx="526.4" cy="203.0" r="1.45" fill="none" stroke="#a0a0a0" stroke-width="0.75"/>
<circle cx="528.8" cy="207.8" r="1.45" fill="none" stroke="#a0a0a0" stroke-width="0.75"/>
<circle cx="534.8" cy="201.8" r="1.45" fill="none" stroke="#a0a0a0" stroke-width="0.75"/>
<circle cx="536.0" cy="207.8" r="1.45" fill="none" stroke="#a0a0a0" stroke-width="0.75"/>
<circle cx="544.5" cy="209.0" r="1.45" fill="none" stroke="#a0a0a0" stroke-width="0.75"/>
<circle cx="548.1" cy="206.6" r="1.45" fill="none" stroke="#a0a0a0" stroke-width="0.75"/>
<circle cx="550.5" cy="207.8" r="1.45" fill="none" stroke="#a0a0a0" stroke-width="0.75"/>
<circle cx="561.3" cy="207.3" r="1.45" fill="none" stroke="#a0a0a0" stroke-width="0.75"/>
<circle cx="562.5" cy="210.2" r="1.45" fill="none" stroke="#a0a0a0" stroke-width="0.75"/>
<circle cx="564.9" cy="198.2" r="1.45" fill="none" stroke="#a0a0a0" stroke-width="0.75"/>
<circle cx="570.9" cy="201.8" r="1.45" fill="none" stroke="#a0a0a0" stroke-width="0.75"/>
<circle cx="578.2" cy="210.2" r="1.45" fill="none" stroke="#a0a0a0" stroke-width="0.75"/>
<circle cx="584.2" cy="210.2" r="1.45" fill="none" stroke="#a0a0a0" stroke-width="0.75"/>
<circle cx="590.2" cy="213.1" r="1.45" fill="none" stroke="#a0a0a0" stroke-width="0.75"/>
<circle cx="591.4" cy="215.5" r="1.45" fill="none" stroke="#a0a0a0" stroke-width="0.75"/>
<circle cx="595.0" cy="212.1" r="1.45" fill="none" stroke="#a0a0a0" stroke-width="0.75"/>
<circle cx="602.3" cy="221.0" r="1.45" fill="none" stroke="#a0a0a0" stroke-width="0.75"/>
<circle cx="604.2" cy="217.4" r="1.45" fill="none" stroke="#a0a0a0" stroke-width="0.75"/>
<path d="M351.3,227.6 C352.3,227.3 355.4,226.3 357.5,225.6 C359.6,224.9 362.1,223.8 363.8,223.5 C365.6,223.2 366.4,224.1 368.0,224.1 C369.6,224.1 371.8,224.3 373.2,223.5 C374.6,222.7 375.1,220.9 376.3,219.3 C377.5,217.7 379.1,215.2 380.5,214.1 C381.9,213.0 383.2,213.2 384.6,213.0 C386.0,212.8 387.4,213.6 388.8,212.6 C390.2,211.6 391.4,209.0 393.0,206.8 C394.6,204.6 396.6,201.1 398.2,199.5 C399.8,197.9 401.0,198.1 402.4,197.4 C403.8,196.7 405.4,196.9 406.6,195.3 C407.8,193.7 408.5,192.7 409.7,188.0 C410.9,183.3 412.7,174.0 413.9,167.1 C415.1,160.2 415.8,156.1 417.0,146.3 C418.2,136.5 420.2,117.2 421.4,108.3 C422.6,99.4 423.1,96.5 424.0,93.0 C424.9,89.5 425.7,87.6 426.5,87.4 C427.3,87.2 428.1,89.2 429.0,92.0 C429.9,94.8 430.9,99.0 432.0,104.0 C433.1,109.0 434.4,116.0 435.7,122.0 C437.0,128.0 438.8,134.9 440.0,140.0 C441.2,145.1 441.9,149.0 443.1,152.5 C444.3,156.0 445.9,158.6 447.3,160.9 C448.7,163.2 449.7,164.9 451.4,166.1 C453.1,167.3 455.9,167.7 457.7,168.2 C459.4,168.7 460.5,168.2 461.9,169.2 C463.3,170.2 464.6,172.0 466.0,174.4 C467.4,176.8 468.6,180.1 470.2,183.7 C471.8,187.3 473.9,192.6 475.8,195.8 C477.8,199.0 479.7,200.6 481.9,203.0 C484.1,205.4 486.9,208.5 489.1,210.2 C491.3,211.9 493.1,212.9 495.1,213.1 C497.1,213.3 498.9,212.1 501.1,211.4 C503.3,210.7 505.9,209.6 508.3,209.0 C510.7,208.4 512.8,208.2 515.6,207.8 C518.4,207.4 522.0,206.8 525.2,206.6 C528.4,206.4 531.6,206.4 534.8,206.6 C538.0,206.8 541.5,207.3 544.5,207.8 C547.5,208.3 550.3,209.7 552.9,209.7 C555.5,209.7 557.9,208.5 560.1,207.8 C562.3,207.1 564.3,205.8 566.1,205.4 C567.9,205.0 569.1,204.8 570.9,205.4 C572.7,206.0 574.6,207.8 577.0,209.0 C579.4,210.2 582.4,211.4 585.4,212.6 C588.4,213.8 591.6,214.8 595.0,216.2 C598.4,217.6 604.1,220.2 605.9,221.0" fill="none" stroke="#a0a0a0" stroke-width="0.95"/>
<circle cx="427.8" cy="81.6" r="1.3" fill="none" stroke="#e62ad6" stroke-width="1.0"/>
<circle cx="432.9" cy="98.1" r="1.3" fill="none" stroke="#e62ad6" stroke-width="1.0"/>
<circle cx="445.3" cy="131.1" r="1.3" fill="none" stroke="#e62ad6" stroke-width="1.0"/>
<circle cx="442.8" cy="142.0" r="1.3" fill="none" stroke="#e62ad6" stroke-width="1.0"/>
<circle cx="363.8" cy="228.1" r="1.3" fill="none" stroke="#e62ad6" stroke-width="1.0"/>
<circle cx="366.9" cy="228.1" r="1.3" fill="none" stroke="#e62ad6" stroke-width="1.0"/>
<circle cx="376.3" cy="228.1" r="1.3" fill="none" stroke="#e62ad6" stroke-width="1.0"/>
<circle cx="378.4" cy="228.1" r="1.3" fill="none" stroke="#e62ad6" stroke-width="1.0"/>
<circle cx="383.6" cy="227.6" r="1.3" fill="none" stroke="#e62ad6" stroke-width="1.0"/>
<circle cx="392.0" cy="226.0" r="1.3" fill="none" stroke="#e62ad6" stroke-width="1.0"/>
<circle cx="395.1" cy="224.5" r="1.3" fill="none" stroke="#e62ad6" stroke-width="1.0"/>
<circle cx="401.3" cy="221.0" r="1.3" fill="none" stroke="#e62ad6" stroke-width="1.0"/>
<circle cx="404.5" cy="221.8" r="1.3" fill="none" stroke="#e62ad6" stroke-width="1.0"/>
<circle cx="410.7" cy="191.1" r="1.3" fill="none" stroke="#e62ad6" stroke-width="1.0"/>
<circle cx="414.5" cy="184.9" r="1.3" fill="none" stroke="#e62ad6" stroke-width="1.0"/>
<circle cx="422.2" cy="167.1" r="1.3" fill="none" stroke="#e62ad6" stroke-width="1.0"/>
<circle cx="424.9" cy="173.0" r="1.3" fill="none" stroke="#e62ad6" stroke-width="1.0"/>
<circle cx="444.1" cy="186.3" r="1.3" fill="none" stroke="#e62ad6" stroke-width="1.0"/>
<circle cx="458.7" cy="225.6" r="1.3" fill="none" stroke="#e62ad6" stroke-width="1.0"/>
<circle cx="464.6" cy="226.0" r="1.3" fill="none" stroke="#e62ad6" stroke-width="1.0"/>
<circle cx="471.3" cy="227.2" r="1.3" fill="none" stroke="#e62ad6" stroke-width="1.0"/>
<circle cx="461.9" cy="202.6" r="1.3" fill="none" stroke="#e62ad6" stroke-width="1.0"/>
<circle cx="465.0" cy="227.8" r="1.3" fill="none" stroke="#e62ad6" stroke-width="1.0"/>
<circle cx="472.2" cy="227.8" r="1.3" fill="none" stroke="#e62ad6" stroke-width="1.0"/>
<circle cx="478.2" cy="227.8" r="1.3" fill="none" stroke="#e62ad6" stroke-width="1.0"/>
<circle cx="480.7" cy="227.8" r="1.3" fill="none" stroke="#e62ad6" stroke-width="1.0"/>
<circle cx="490.3" cy="227.8" r="1.3" fill="none" stroke="#e62ad6" stroke-width="1.0"/>
<circle cx="492.7" cy="227.8" r="1.3" fill="none" stroke="#e62ad6" stroke-width="1.0"/>
<circle cx="496.3" cy="227.8" r="1.3" fill="none" stroke="#e62ad6" stroke-width="1.0"/>
<circle cx="499.9" cy="227.8" r="1.3" fill="none" stroke="#e62ad6" stroke-width="1.0"/>
<circle cx="504.7" cy="227.8" r="1.3" fill="none" stroke="#e62ad6" stroke-width="1.0"/>
<circle cx="508.3" cy="227.8" r="1.3" fill="none" stroke="#e62ad6" stroke-width="1.0"/>
<circle cx="514.4" cy="227.8" r="1.3" fill="none" stroke="#e62ad6" stroke-width="1.0"/>
<circle cx="518.0" cy="227.8" r="1.3" fill="none" stroke="#e62ad6" stroke-width="1.0"/>
<circle cx="522.8" cy="227.8" r="1.3" fill="none" stroke="#e62ad6" stroke-width="1.0"/>
<circle cx="525.2" cy="227.8" r="1.3" fill="none" stroke="#e62ad6" stroke-width="1.0"/>
<path d="M360.7,228.1 C365.0,228.0 381.0,228.0 386.7,227.6 C392.4,227.2 392.8,226.6 395.1,225.6 C397.4,224.6 398.7,223.5 400.3,221.4 C401.9,219.3 402.9,217.2 404.5,213.0 C406.1,208.8 407.8,202.6 409.7,196.3 C411.6,190.1 414.1,182.1 416.0,175.5 C417.9,168.9 419.6,163.1 421.2,156.7 C422.8,150.3 424.1,143.8 425.3,137.0 C426.5,130.2 427.6,121.0 428.5,116.0 C429.4,111.0 430.1,108.9 430.8,107.0 C431.5,105.1 431.9,104.7 432.5,104.7 C433.1,104.7 433.6,105.3 434.3,107.0 C435.0,108.7 435.6,111.7 436.5,115.0 C437.4,118.3 438.4,122.5 439.5,127.0 C440.6,131.5 442.0,136.3 443.1,142.0 C444.2,147.7 445.2,154.3 446.2,160.9 C447.2,167.5 448.2,175.4 449.3,181.7 C450.4,187.9 451.4,193.9 452.5,198.4 C453.6,202.9 454.0,206.1 455.6,208.9 C457.2,211.7 460.2,213.0 461.9,215.1 C463.6,217.2 464.6,219.5 466.0,221.4 C467.4,223.3 468.7,225.5 470.2,226.6 C471.7,227.7 470.0,227.8 475.0,228.0 C480.0,228.2 491.4,227.8 500.0,227.8 C508.6,227.8 522.0,227.8 526.4,227.8" fill="none" stroke="#e62ad6" stroke-width="1.5"/>
<circle cx="419.5" cy="212.6" r="1.3" fill="none" stroke="#1a1ad0" stroke-width="1.0"/>
<circle cx="423.3" cy="208.9" r="1.3" fill="none" stroke="#1a1ad0" stroke-width="1.0"/>
<circle cx="425.3" cy="211.0" r="1.3" fill="none" stroke="#1a1ad0" stroke-width="1.0"/>
<circle cx="428.5" cy="201.6" r="1.3" fill="none" stroke="#1a1ad0" stroke-width="1.0"/>
<circle cx="431.6" cy="204.7" r="1.3" fill="none" stroke="#1a1ad0" stroke-width="1.0"/>
<circle cx="434.7" cy="193.2" r="1.3" fill="none" stroke="#1a1ad0" stroke-width="1.0"/>
<circle cx="438.9" cy="195.9" r="1.3" fill="none" stroke="#1a1ad0" stroke-width="1.0"/>
<circle cx="438.9" cy="200.9" r="1.3" fill="none" stroke="#1a1ad0" stroke-width="1.0"/>
<circle cx="442.0" cy="189.0" r="1.3" fill="none" stroke="#1a1ad0" stroke-width="1.0"/>
<circle cx="449.3" cy="191.1" r="1.3" fill="none" stroke="#1a1ad0" stroke-width="1.0"/>
<circle cx="451.4" cy="195.3" r="1.3" fill="none" stroke="#1a1ad0" stroke-width="1.0"/>
<circle cx="458.7" cy="194.3" r="1.3" fill="none" stroke="#1a1ad0" stroke-width="1.0"/>
<circle cx="460.8" cy="199.5" r="1.3" fill="none" stroke="#1a1ad0" stroke-width="1.0"/>
<circle cx="465.0" cy="198.4" r="1.3" fill="none" stroke="#1a1ad0" stroke-width="1.0"/>
<circle cx="466.0" cy="203.6" r="1.3" fill="none" stroke="#1a1ad0" stroke-width="1.0"/>
<circle cx="420.8" cy="215.0" r="1.3" fill="none" stroke="#1a1ad0" stroke-width="1.0"/>
<circle cx="424.5" cy="213.5" r="1.3" fill="none" stroke="#1a1ad0" stroke-width="1.0"/>
<circle cx="427.0" cy="206.0" r="1.3" fill="none" stroke="#1a1ad0" stroke-width="1.0"/>
<circle cx="430.0" cy="203.0" r="1.3" fill="none" stroke="#1a1ad0" stroke-width="1.0"/>
<circle cx="433.0" cy="197.5" r="1.3" fill="none" stroke="#1a1ad0" stroke-width="1.0"/>
<circle cx="436.5" cy="196.0" r="1.3" fill="none" stroke="#1a1ad0" stroke-width="1.0"/>
<circle cx="441.0" cy="190.5" r="1.3" fill="none" stroke="#1a1ad0" stroke-width="1.0"/>
<circle cx="453.0" cy="192.0" r="1.3" fill="none" stroke="#1a1ad0" stroke-width="1.0"/>
<circle cx="455.5" cy="194.5" r="1.3" fill="none" stroke="#1a1ad0" stroke-width="1.0"/>
<circle cx="462.5" cy="197.0" r="1.3" fill="none" stroke="#1a1ad0" stroke-width="1.0"/>
<circle cx="468.0" cy="200.5" r="1.3" fill="none" stroke="#1a1ad0" stroke-width="1.0"/>
<circle cx="477.0" cy="205.4" r="1.3" fill="none" stroke="#1a1ad0" stroke-width="1.0"/>
<circle cx="478.2" cy="207.8" r="1.3" fill="none" stroke="#1a1ad0" stroke-width="1.0"/>
<circle cx="487.9" cy="205.4" r="1.3" fill="none" stroke="#1a1ad0" stroke-width="1.0"/>
<circle cx="489.1" cy="206.6" r="1.3" fill="none" stroke="#1a1ad0" stroke-width="1.0"/>
<circle cx="501.1" cy="211.4" r="1.3" fill="none" stroke="#1a1ad0" stroke-width="1.0"/>
<circle cx="501.1" cy="213.1" r="1.3" fill="none" stroke="#1a1ad0" stroke-width="1.0"/>
<circle cx="519.2" cy="207.8" r="1.3" fill="none" stroke="#1a1ad0" stroke-width="1.0"/>
<circle cx="519.2" cy="210.2" r="1.3" fill="none" stroke="#1a1ad0" stroke-width="1.0"/>
<circle cx="519.2" cy="213.1" r="1.3" fill="none" stroke="#1a1ad0" stroke-width="1.0"/>
<circle cx="533.6" cy="215.0" r="1.3" fill="none" stroke="#1a1ad0" stroke-width="1.0"/>
<circle cx="533.6" cy="217.4" r="1.3" fill="none" stroke="#1a1ad0" stroke-width="1.0"/>
<circle cx="549.3" cy="216.9" r="1.3" fill="none" stroke="#1a1ad0" stroke-width="1.0"/>
<circle cx="551.7" cy="217.4" r="1.3" fill="none" stroke="#1a1ad0" stroke-width="1.0"/>
<circle cx="563.7" cy="219.8" r="1.3" fill="none" stroke="#1a1ad0" stroke-width="1.0"/>
<circle cx="568.5" cy="218.6" r="1.3" fill="none" stroke="#1a1ad0" stroke-width="1.0"/>
<circle cx="580.6" cy="221.5" r="1.3" fill="none" stroke="#1a1ad0" stroke-width="1.0"/>
<circle cx="586.6" cy="221.8" r="1.3" fill="none" stroke="#1a1ad0" stroke-width="1.0"/>
<circle cx="596.2" cy="225.1" r="1.3" fill="none" stroke="#1a1ad0" stroke-width="1.0"/>
<circle cx="599.8" cy="224.6" r="1.3" fill="none" stroke="#1a1ad0" stroke-width="1.0"/>
<circle cx="605.9" cy="224.2" r="1.3" fill="none" stroke="#1a1ad0" stroke-width="1.0"/>
<circle cx="471.0" cy="203.5" r="1.3" fill="none" stroke="#1a1ad0" stroke-width="1.0"/>
<circle cx="474.0" cy="205.0" r="1.3" fill="none" stroke="#1a1ad0" stroke-width="1.0"/>
<circle cx="411.0" cy="227.9" r="1.3" fill="none" stroke="#1a1ad0" stroke-width="1.0"/>
<circle cx="411.9" cy="227.3" r="1.3" fill="none" stroke="#1a1ad0" stroke-width="1.0"/>
<circle cx="412.8" cy="228.5" r="1.3" fill="none" stroke="#1a1ad0" stroke-width="1.0"/>
<circle cx="413.7" cy="226.6" r="1.3" fill="none" stroke="#1a1ad0" stroke-width="1.0"/>
<circle cx="414.6" cy="227.7" r="1.3" fill="none" stroke="#1a1ad0" stroke-width="1.0"/>
<circle cx="415.5" cy="227.0" r="1.3" fill="none" stroke="#1a1ad0" stroke-width="1.0"/>
<circle cx="416.4" cy="225.8" r="1.3" fill="none" stroke="#1a1ad0" stroke-width="1.0"/>
<circle cx="417.3" cy="226.8" r="1.3" fill="none" stroke="#1a1ad0" stroke-width="1.0"/>
<circle cx="418.2" cy="225.3" r="1.3" fill="none" stroke="#1a1ad0" stroke-width="1.0"/>
<circle cx="419.1" cy="226.1" r="1.3" fill="none" stroke="#1a1ad0" stroke-width="1.0"/>
<circle cx="420.0" cy="224.8" r="1.3" fill="none" stroke="#1a1ad0" stroke-width="1.0"/>
<circle cx="420.9" cy="224.6" r="1.3" fill="none" stroke="#1a1ad0" stroke-width="1.0"/>
<circle cx="421.8" cy="225.3" r="1.3" fill="none" stroke="#1a1ad0" stroke-width="1.0"/>
<circle cx="422.7" cy="226.1" r="1.3" fill="none" stroke="#1a1ad0" stroke-width="1.0"/>
<circle cx="423.6" cy="223.9" r="1.3" fill="none" stroke="#1a1ad0" stroke-width="1.0"/>
<circle cx="424.5" cy="223.8" r="1.3" fill="none" stroke="#1a1ad0" stroke-width="1.0"/>
<circle cx="425.4" cy="224.7" r="1.3" fill="none" stroke="#1a1ad0" stroke-width="1.0"/>
<circle cx="426.3" cy="225.3" r="1.3" fill="none" stroke="#1a1ad0" stroke-width="1.0"/>
<circle cx="427.2" cy="224.0" r="1.3" fill="none" stroke="#1a1ad0" stroke-width="1.0"/>
<circle cx="428.1" cy="223.2" r="1.3" fill="none" stroke="#1a1ad0" stroke-width="1.0"/>
<circle cx="429.0" cy="224.5" r="1.3" fill="none" stroke="#1a1ad0" stroke-width="1.0"/>
<circle cx="430.0" cy="221.6" r="1.3" fill="none" stroke="#1a1ad0" stroke-width="1.0"/>
<circle cx="430.9" cy="223.5" r="1.3" fill="none" stroke="#1a1ad0" stroke-width="1.0"/>
<circle cx="431.8" cy="221.6" r="1.3" fill="none" stroke="#1a1ad0" stroke-width="1.0"/>
<circle cx="432.7" cy="220.9" r="1.3" fill="none" stroke="#1a1ad0" stroke-width="1.0"/>
<circle cx="433.6" cy="220.5" r="1.3" fill="none" stroke="#1a1ad0" stroke-width="1.0"/>
<circle cx="434.5" cy="220.8" r="1.3" fill="none" stroke="#1a1ad0" stroke-width="1.0"/>
<circle cx="435.4" cy="221.9" r="1.3" fill="none" stroke="#1a1ad0" stroke-width="1.0"/>
<circle cx="436.3" cy="219.8" r="1.3" fill="none" stroke="#1a1ad0" stroke-width="1.0"/>
<circle cx="437.2" cy="220.6" r="1.3" fill="none" stroke="#1a1ad0" stroke-width="1.0"/>
<circle cx="438.1" cy="220.4" r="1.3" fill="none" stroke="#1a1ad0" stroke-width="1.0"/>
<circle cx="439.0" cy="219.3" r="1.3" fill="none" stroke="#1a1ad0" stroke-width="1.0"/>
<circle cx="439.9" cy="219.5" r="1.3" fill="none" stroke="#1a1ad0" stroke-width="1.0"/>
<circle cx="440.8" cy="217.8" r="1.3" fill="none" stroke="#1a1ad0" stroke-width="1.0"/>
<circle cx="441.7" cy="217.5" r="1.3" fill="none" stroke="#1a1ad0" stroke-width="1.0"/>
<circle cx="442.6" cy="217.6" r="1.3" fill="none" stroke="#1a1ad0" stroke-width="1.0"/>
<circle cx="443.5" cy="218.6" r="1.3" fill="none" stroke="#1a1ad0" stroke-width="1.0"/>
<circle cx="444.4" cy="217.5" r="1.3" fill="none" stroke="#1a1ad0" stroke-width="1.0"/>
<circle cx="445.3" cy="216.9" r="1.3" fill="none" stroke="#1a1ad0" stroke-width="1.0"/>
<circle cx="446.2" cy="217.3" r="1.3" fill="none" stroke="#1a1ad0" stroke-width="1.0"/>
<circle cx="447.1" cy="216.6" r="1.3" fill="none" stroke="#1a1ad0" stroke-width="1.0"/>
<circle cx="448.0" cy="215.8" r="1.3" fill="none" stroke="#1a1ad0" stroke-width="1.0"/>
<path d="M410.7,228.7 C411.9,228.2 415.7,226.8 418.0,225.6 C420.3,224.4 422.6,222.4 424.3,221.4 C426.1,220.4 426.8,220.2 428.5,219.3 C430.2,218.4 433.0,217.4 434.7,216.2 C436.4,215.0 437.7,213.4 438.9,212.0 C440.1,210.6 440.9,207.5 442.0,207.8 C443.1,208.2 444.3,213.2 445.2,214.1 C446.1,215.0 446.6,215.6 447.3,213.0 C448.0,210.4 448.7,202.2 449.3,198.4 C449.9,194.6 450.3,191.0 451.0,190.1 C451.7,189.2 452.4,192.5 453.5,193.2 C454.6,193.9 456.5,193.6 457.7,194.3 C458.9,195.0 459.8,196.5 460.8,197.4 C461.8,198.3 462.7,198.8 463.9,199.5 C465.1,200.2 466.7,200.8 468.1,201.6 C469.5,202.4 470.5,203.4 472.2,204.2 C473.9,205.0 476.4,206.0 478.2,206.6 C480.0,207.2 481.5,208.0 483.1,207.8 C484.7,207.6 486.1,205.4 487.9,205.4 C489.7,205.4 491.7,206.7 493.9,207.8 C496.1,208.9 498.5,211.1 501.1,212.1 C503.7,213.1 506.9,213.8 509.5,213.8 C512.1,213.8 515.2,212.9 516.8,212.1 C518.4,211.3 517.8,209.1 519.2,209.0 C520.6,208.9 522.8,210.4 525.2,211.4 C527.6,212.4 530.8,214.2 533.6,215.0 C536.4,215.8 539.5,215.9 542.1,216.2 C544.7,216.5 546.9,216.6 549.3,216.9 C551.7,217.2 554.1,217.6 556.5,218.1 C558.9,218.6 561.7,219.7 563.7,219.8 C565.7,219.9 566.5,218.4 568.5,218.6 C570.5,218.8 573.0,220.5 575.8,221.0 C578.6,221.5 582.0,221.1 585.4,221.8 C588.8,222.5 592.8,224.7 596.2,225.1 C599.6,225.5 604.3,224.3 605.9,224.2" fill="none" stroke="#1a1ad0" stroke-width="1.35"/>
</g>
<rect x="531.2" y="10.6" width="68.4" height="66.6" fill="#fff" stroke="#555" stroke-width="0.8"/>
<circle cx="542.5" cy="17.2" r="1.3" fill="none" stroke="#a0a0a0" stroke-width="0.9"/>
<text transform="translate(554.0,20.5) scale(1.265,1)" font-family="Liberation Sans" font-size="9.6" fill="#222" stroke="#222" stroke-width="0.3" text-anchor="start" font-weight="normal" font-style="normal" >SN</text>
<path d="M533.2,28.1 h18.5" stroke="#a0a0a0" stroke-width="1.0"/>
<text transform="translate(554.0,31.4) scale(1.265,1)" font-family="Liberation Sans" font-size="9.6" fill="#222" stroke="#222" stroke-width="0.3" text-anchor="start" font-weight="normal" font-style="normal" >interpos</text>
<circle cx="542.5" cy="39.0" r="1.3" fill="none" stroke="#e62ad6" stroke-width="0.9"/>
<text transform="translate(554.0,42.3) scale(1.265,1)" font-family="Liberation Sans" font-size="9.6" fill="#222" stroke="#222" stroke-width="0.3" text-anchor="start" font-weight="normal" font-style="normal" >SP2</text>
<path d="M533.2,49.9 h18.5" stroke="#e62ad6" stroke-width="1.5"/>
<text transform="translate(554.0,53.2) scale(1.265,1)" font-family="Liberation Sans" font-size="9.6" fill="#222" stroke="#222" stroke-width="0.3" text-anchor="start" font-weight="normal" font-style="normal" >interpos</text>
<circle cx="542.5" cy="60.8" r="1.3" fill="none" stroke="#1a1ad0" stroke-width="0.9"/>
<text transform="translate(554.0,64.1) scale(1.265,1)" font-family="Liberation Sans" font-size="9.6" fill="#222" stroke="#222" stroke-width="0.3" text-anchor="start" font-weight="normal" font-style="normal" >SP4</text>
<path d="M533.2,71.7 h18.5" stroke="#1a1ad0" stroke-width="1.5"/>
<text transform="translate(554.0,75.0) scale(1.265,1)" font-family="Liberation Sans" font-size="9.6" fill="#222" stroke="#222" stroke-width="0.3" text-anchor="start" font-weight="normal" font-style="normal" >interpos</text>
<g transform="translate(610.2,115.6) rotate(90) scale(0.925,1)"><text font-family="Liberation Sans" font-style="italic" font-size="12.6" text-anchor="start"><tspan fill="#747474" stroke="#747474" stroke-width="0.2">66176</tspan><tspan fill="#000" font-weight="bold">,</tspan><tspan fill="#ff19e6" font-weight="bold">66177</tspan></text></g>
<rect x="350.8" y="281.3" width="256.8" height="245.8" fill="#fff" stroke="#b2b2b2" stroke-width="1.6"/>
<path d="M350.8,512.6 h3 M607.6,512.6 h-3" stroke="#8a8a8a" stroke-width="0.9"/>
<text transform="translate(346.4,516.3) scale(1.19,1)" font-family="Liberation Sans" font-size="10.6" fill="#3a3a3a" stroke="#3a3a3a" stroke-width="0.32" text-anchor="end" font-weight="normal" font-style="normal" >0</text>
<path d="M350.8,483.7 h3 M607.6,483.7 h-3" stroke="#8a8a8a" stroke-width="0.9"/>
<text transform="translate(346.4,487.4) scale(1.19,1)" font-family="Liberation Sans" font-size="10.6" fill="#3a3a3a" stroke="#3a3a3a" stroke-width="0.32" text-anchor="end" font-weight="normal" font-style="normal" >0.1</text>
<path d="M350.8,454.8 h3 M607.6,454.8 h-3" stroke="#8a8a8a" stroke-width="0.9"/>
<text transform="translate(346.4,458.5) scale(1.19,1)" font-family="Liberation Sans" font-size="10.6" fill="#3a3a3a" stroke="#3a3a3a" stroke-width="0.32" text-anchor="end" font-weight="normal" font-style="normal" >0.2</text>
<path d="M350.8,425.9 h3 M607.6,425.9 h-3" stroke="#8a8a8a" stroke-width="0.9"/>
<text transform="translate(346.4,429.6) scale(1.19,1)" font-family="Liberation Sans" font-size="10.6" fill="#3a3a3a" stroke="#3a3a3a" stroke-width="0.32" text-anchor="end" font-weight="normal" font-style="normal" >0.3</text>
<path d="M350.8,397.0 h3 M607.6,397.0 h-3" stroke="#8a8a8a" stroke-width="0.9"/>
<text transform="translate(346.4,400.7) scale(1.19,1)" font-family="Liberation Sans" font-size="10.6" fill="#3a3a3a" stroke="#3a3a3a" stroke-width="0.32" text-anchor="end" font-weight="normal" font-style="normal" >0.4</text>
<path d="M350.8,368.1 h3 M607.6,368.1 h-3" stroke="#8a8a8a" stroke-width="0.9"/>
<text transform="translate(346.4,371.8) scale(1.19,1)" font-family="Liberation Sans" font-size="10.6" fill="#3a3a3a" stroke="#3a3a3a" stroke-width="0.32" text-anchor="end" font-weight="normal" font-style="normal" >0.5</text>
<path d="M350.8,339.2 h3 M607.6,339.2 h-3" stroke="#8a8a8a" stroke-width="0.9"/>
<text transform="translate(346.4,342.9) scale(1.19,1)" font-family="Liberation Sans" font-size="10.6" fill="#3a3a3a" stroke="#3a3a3a" stroke-width="0.32" text-anchor="end" font-weight="normal" font-style="normal" >0.6</text>
<path d="M350.8,310.3 h3 M607.6,310.3 h-3" stroke="#8a8a8a" stroke-width="0.9"/>
<text transform="translate(346.4,314.0) scale(1.19,1)" font-family="Liberation Sans" font-size="10.6" fill="#3a3a3a" stroke="#3a3a3a" stroke-width="0.32" text-anchor="end" font-weight="normal" font-style="normal" >0.7</text>
<path d="M350.8,281.4 h3 M607.6,281.4 h-3" stroke="#8a8a8a" stroke-width="0.9"/>
<text transform="translate(346.4,285.1) scale(1.19,1)" font-family="Liberation Sans" font-size="10.6" fill="#3a3a3a" stroke="#3a3a3a" stroke-width="0.32" text-anchor="end" font-weight="normal" font-style="normal" >0.8</text>
<path d="M374.1,527.1 v-3 M374.1,281.3 v3" stroke="#8a8a8a" stroke-width="0.9"/>
<text transform="translate(374.1,539.9) scale(1.19,1)" font-family="Liberation Sans" font-size="10.6" fill="#3a3a3a" stroke="#3a3a3a" stroke-width="0.32" text-anchor="middle" font-weight="normal" font-style="normal" >0.95</text>
<path d="M432.5,527.1 v-3 M432.5,281.3 v3" stroke="#8a8a8a" stroke-width="0.9"/>
<text transform="translate(432.5,539.9) scale(1.19,1)" font-family="Liberation Sans" font-size="10.6" fill="#3a3a3a" stroke="#3a3a3a" stroke-width="0.32" text-anchor="middle" font-weight="normal" font-style="normal" >1</text>
<path d="M490.9,527.1 v-3 M490.9,281.3 v3" stroke="#8a8a8a" stroke-width="0.9"/>
<text transform="translate(490.9,539.9) scale(1.19,1)" font-family="Liberation Sans" font-size="10.6" fill="#3a3a3a" stroke="#3a3a3a" stroke-width="0.32" text-anchor="middle" font-weight="normal" font-style="normal" >1.05</text>
<path d="M549.2,527.1 v-3 M549.2,281.3 v3" stroke="#8a8a8a" stroke-width="0.9"/>
<text transform="translate(549.2,539.9) scale(1.19,1)" font-family="Liberation Sans" font-size="10.6" fill="#3a3a3a" stroke="#3a3a3a" stroke-width="0.32" text-anchor="middle" font-weight="normal" font-style="normal" >1.1</text>
<path d="M607.6,527.1 v-3 M607.6,281.3 v3" stroke="#8a8a8a" stroke-width="0.9"/>
<text transform="translate(607.6,539.9) scale(1.19,1)" font-family="Liberation Sans" font-size="10.6" fill="#3a3a3a" stroke="#3a3a3a" stroke-width="0.32" text-anchor="middle" font-weight="normal" font-style="normal" >1.15</text>
<text transform="translate(471.6,553.4)" font-family="Liberation Serif" font-style="italic" font-size="13.5" fill="#6a6a6a"><tspan>&#961;</tspan><tspan font-size="9" dx="0.6" dy="4.2">&#968;</tspan></text>
<g transform="translate(317.4,404.3) rotate(-90) scale(1.175,1)"><text font-family="Liberation Sans" font-size="10.3" fill="#3c3c3c" stroke="#3c3c3c" stroke-width="0.2" text-anchor="middle"><tspan>J</tspan><tspan font-size="8.8" dy="3.4">sat</tspan><tspan dy="-3.4">[10</tspan><tspan font-size="8.6" dy="-5.4">5</tspan><tspan dy="5.4"> A/m</tspan><tspan font-size="8.6" dy="-5.4">-2</tspan><tspan dy="5.4">]</tspan></text></g>
<clipPath id="ce"><rect x="350.8" y="281.3" width="256.8" height="245.8"/></clipPath><g clip-path="url(#ce)">
<circle cx="425.3" cy="344.2" r="1.45" fill="none" stroke="#a0a0a0" stroke-width="0.75"/>
<circle cx="426.8" cy="357.5" r="1.45" fill="none" stroke="#a0a0a0" stroke-width="0.75"/>
<circle cx="422.8" cy="388.4" r="1.45" fill="none" stroke="#a0a0a0" stroke-width="0.75"/>
<circle cx="431.6" cy="390.1" r="1.45" fill="none" stroke="#a0a0a0" stroke-width="0.75"/>
<circle cx="436.8" cy="404.7" r="1.45" fill="none" stroke="#a0a0a0" stroke-width="0.75"/>
<circle cx="443.1" cy="418.3" r="1.45" fill="none" stroke="#a0a0a0" stroke-width="0.75"/>
<circle cx="440.6" cy="437.5" r="1.45" fill="none" stroke="#a0a0a0" stroke-width="0.75"/>
<circle cx="448.7" cy="438.1" r="1.45" fill="none" stroke="#a0a0a0" stroke-width="0.75"/>
<circle cx="354.4" cy="512.2" r="1.45" fill="none" stroke="#a0a0a0" stroke-width="0.75"/>
<circle cx="363.4" cy="507.6" r="1.45" fill="none" stroke="#a0a0a0" stroke-width="0.75"/>
<circle cx="373.2" cy="509.1" r="1.45" fill="none" stroke="#a0a0a0" stroke-width="0.75"/>
<circle cx="382.6" cy="492.2" r="1.45" fill="none" stroke="#a0a0a0" stroke-width="0.75"/>
<circle cx="381.5" cy="498.0" r="1.45" fill="none" stroke="#a0a0a0" stroke-width="0.75"/>
<circle cx="392.0" cy="500.5" r="1.45" fill="none" stroke="#a0a0a0" stroke-width="0.75"/>
<circle cx="390.0" cy="501.0" r="1.45" fill="none" stroke="#a0a0a0" stroke-width="0.75"/>
<circle cx="401.3" cy="469.4" r="1.45" fill="none" stroke="#a0a0a0" stroke-width="0.75"/>
<circle cx="399.3" cy="480.9" r="1.45" fill="none" stroke="#a0a0a0" stroke-width="0.75"/>
<circle cx="408.6" cy="484.1" r="1.45" fill="none" stroke="#a0a0a0" stroke-width="0.75"/>
<circle cx="411.4" cy="484.5" r="1.45" fill="none" stroke="#a0a0a0" stroke-width="0.75"/>
<circle cx="445.2" cy="460.5" r="1.45" fill="none" stroke="#a0a0a0" stroke-width="0.75"/>
<circle cx="454.6" cy="456.3" r="1.45" fill="none" stroke="#a0a0a0" stroke-width="0.75"/>
<circle cx="458.7" cy="452.1" r="1.45" fill="none" stroke="#a0a0a0" stroke-width="0.75"/>
<circle cx="461.2" cy="444.2" r="1.45" fill="none" stroke="#a0a0a0" stroke-width="0.75"/>
<circle cx="463.9" cy="444.8" r="1.45" fill="none" stroke="#a0a0a0" stroke-width="0.75"/>
<circle cx="466.7" cy="468.4" r="1.45" fill="none" stroke="#a0a0a0" stroke-width="0.75"/>
<circle cx="472.9" cy="466.7" r="1.45" fill="none" stroke="#a0a0a0" stroke-width="0.75"/>
<circle cx="466.2" cy="468.7" r="1.45" fill="none" stroke="#a0a0a0" stroke-width="0.75"/>
<circle cx="473.4" cy="466.8" r="1.45" fill="none" stroke="#a0a0a0" stroke-width="0.75"/>
<circle cx="475.8" cy="483.2" r="1.45" fill="none" stroke="#a0a0a0" stroke-width="0.75"/>
<circle cx="479.4" cy="478.3" r="1.45" fill="none" stroke="#a0a0a0" stroke-width="0.75"/>
<circle cx="487.9" cy="488.5" r="1.45" fill="none" stroke="#a0a0a0" stroke-width="0.75"/>
<circle cx="496.3" cy="512.5" r="1.45" fill="none" stroke="#a0a0a0" stroke-width="0.75"/>
<circle cx="498.7" cy="491.6" r="1.45" fill="none" stroke="#a0a0a0" stroke-width="0.75"/>
<circle cx="507.1" cy="492.8" r="1.45" fill="none" stroke="#a0a0a0" stroke-width="0.75"/>
<circle cx="510.8" cy="488.5" r="1.45" fill="none" stroke="#a0a0a0" stroke-width="0.75"/>
<circle cx="514.4" cy="494.0" r="1.45" fill="none" stroke="#a0a0a0" stroke-width="0.75"/>
<circle cx="519.2" cy="490.9" r="1.45" fill="none" stroke="#a0a0a0" stroke-width="0.75"/>
<circle cx="527.6" cy="487.3" r="1.45" fill="none" stroke="#a0a0a0" stroke-width="0.75"/>
<circle cx="530.0" cy="492.3" r="1.45" fill="none" stroke="#a0a0a0" stroke-width="0.75"/>
<circle cx="536.0" cy="486.0" r="1.45" fill="none" stroke="#a0a0a0" stroke-width="0.75"/>
<circle cx="537.2" cy="492.3" r="1.45" fill="none" stroke="#a0a0a0" stroke-width="0.75"/>
<circle cx="545.7" cy="492.8" r="1.45" fill="none" stroke="#a0a0a0" stroke-width="0.75"/>
<circle cx="548.8" cy="490.4" r="1.45" fill="none" stroke="#a0a0a0" stroke-width="0.75"/>
<circle cx="551.7" cy="492.3" r="1.45" fill="none" stroke="#a0a0a0" stroke-width="0.75"/>
<circle cx="554.1" cy="496.4" r="1.45" fill="none" stroke="#a0a0a0" stroke-width="0.75"/>
<circle cx="562.5" cy="490.9" r="1.45" fill="none" stroke="#a0a0a0" stroke-width="0.75"/>
<circle cx="568.5" cy="494.0" r="1.45" fill="none" stroke="#a0a0a0" stroke-width="0.75"/>
<circle cx="566.1" cy="482.7" r="1.45" fill="none" stroke="#a0a0a0" stroke-width="0.75"/>
<circle cx="572.2" cy="486.3" r="1.45" fill="none" stroke="#a0a0a0" stroke-width="0.75"/>
<circle cx="579.4" cy="494.0" r="1.45" fill="none" stroke="#a0a0a0" stroke-width="0.75"/>
<circle cx="585.4" cy="494.0" r="1.45" fill="none" stroke="#a0a0a0" stroke-width="0.75"/>
<circle cx="591.4" cy="497.1" r="1.45" fill="none" stroke="#a0a0a0" stroke-width="0.75"/>
<circle cx="592.6" cy="500.0" r="1.45" fill="none" stroke="#a0a0a0" stroke-width="0.75"/>
<circle cx="596.2" cy="496.4" r="1.45" fill="none" stroke="#a0a0a0" stroke-width="0.75"/>
<circle cx="605.9" cy="501.2" r="1.45" fill="none" stroke="#a0a0a0" stroke-width="0.75"/>
<circle cx="607.1" cy="512.1" r="1.45" fill="none" stroke="#a0a0a0" stroke-width="0.75"/>
<path d="M351.3,512.2 C352.3,511.9 355.4,510.8 357.5,510.1 C359.6,509.4 361.4,508.4 363.8,508.1 C366.2,507.8 370.0,509.3 372.1,508.5 C374.2,507.7 374.9,505.1 376.3,503.3 C377.7,501.6 379.1,498.9 380.5,498.0 C381.9,497.1 383.0,498.0 384.6,497.6 C386.2,497.2 388.3,497.4 389.9,495.9 C391.5,494.4 392.4,491.0 394.0,488.6 C395.6,486.2 397.7,482.5 399.3,481.3 C400.9,480.1 402.0,481.8 403.4,481.3 C404.8,480.8 406.4,480.6 407.6,478.2 C408.8,475.8 409.6,471.7 410.7,466.7 C411.8,461.7 412.9,454.1 413.9,448.0 C414.9,441.9 415.6,435.8 416.5,430.0 C417.4,424.2 418.1,420.4 419.1,413.5 C420.1,406.6 421.6,395.4 422.6,388.4 C423.6,381.4 424.6,375.3 425.3,371.7 C426.0,368.1 426.3,366.5 427.0,366.5 C427.7,366.5 428.4,367.7 429.5,371.7 C430.6,375.7 432.1,383.5 433.7,390.5 C435.3,397.5 437.6,407.6 438.9,413.5 C440.2,419.4 440.6,421.6 441.5,426.0 C442.4,430.4 442.8,435.9 444.1,439.6 C445.4,443.3 447.4,446.1 449.3,448.0 C451.2,449.9 453.7,450.4 455.6,451.1 C457.5,451.8 459.2,451.2 460.8,452.1 C462.4,453.0 463.5,453.9 465.0,456.3 C466.5,458.7 468.0,462.4 469.8,466.3 C471.6,470.2 473.8,476.1 475.8,479.5 C477.8,482.9 479.7,484.6 481.9,486.8 C484.1,489.0 486.7,491.4 489.1,492.8 C491.5,494.2 493.9,495.0 496.3,495.2 C498.7,495.4 501.1,494.5 503.5,494.0 C505.9,493.5 507.9,492.8 510.7,492.3 C513.5,491.8 516.8,491.1 520.4,490.9 C524.0,490.7 528.4,490.7 532.4,490.9 C536.4,491.1 541.1,491.8 544.5,492.3 C547.9,492.8 550.3,494.0 552.9,494.0 C555.5,494.0 557.9,493.1 560.1,492.3 C562.3,491.5 564.1,489.7 566.1,489.2 C568.1,488.7 570.2,488.6 572.2,489.2 C574.2,489.8 575.6,491.6 578.2,492.8 C580.8,494.0 584.6,495.3 587.8,496.4 C591.0,497.5 594.2,498.3 597.4,499.5 C600.6,500.7 605.4,502.9 607.0,503.6" fill="none" stroke="#a0a0a0" stroke-width="0.95"/>
<circle cx="433.3" cy="407.2" r="1.3" fill="none" stroke="#e62ad6" stroke-width="1.0"/>
<circle cx="437.9" cy="425.0" r="1.3" fill="none" stroke="#e62ad6" stroke-width="1.0"/>
<circle cx="370.0" cy="513.1" r="1.3" fill="none" stroke="#e62ad6" stroke-width="1.0"/>
<circle cx="372.1" cy="513.1" r="1.3" fill="none" stroke="#e62ad6" stroke-width="1.0"/>
<circle cx="380.1" cy="513.1" r="1.3" fill="none" stroke="#e62ad6" stroke-width="1.0"/>
<circle cx="384.6" cy="513.1" r="1.3" fill="none" stroke="#e62ad6" stroke-width="1.0"/>
<circle cx="389.9" cy="513.1" r="1.3" fill="none" stroke="#e62ad6" stroke-width="1.0"/>
<circle cx="405.5" cy="502.2" r="1.3" fill="none" stroke="#e62ad6" stroke-width="1.0"/>
<circle cx="418.5" cy="456.3" r="1.3" fill="none" stroke="#e62ad6" stroke-width="1.0"/>
<circle cx="425.3" cy="456.7" r="1.3" fill="none" stroke="#e62ad6" stroke-width="1.0"/>
<circle cx="430.6" cy="490.7" r="1.3" fill="none" stroke="#e62ad6" stroke-width="1.0"/>
<circle cx="437.9" cy="496.0" r="1.3" fill="none" stroke="#e62ad6" stroke-width="1.0"/>
<circle cx="447.3" cy="491.8" r="1.3" fill="none" stroke="#e62ad6" stroke-width="1.0"/>
<circle cx="452.1" cy="496.0" r="1.3" fill="none" stroke="#e62ad6" stroke-width="1.0"/>
<circle cx="441.0" cy="509.5" r="1.3" fill="none" stroke="#e62ad6" stroke-width="1.0"/>
<circle cx="448.7" cy="508.5" r="1.3" fill="none" stroke="#e62ad6" stroke-width="1.0"/>
<circle cx="450.4" cy="512.2" r="1.3" fill="none" stroke="#e62ad6" stroke-width="1.0"/>
<circle cx="457.7" cy="511.6" r="1.3" fill="none" stroke="#e62ad6" stroke-width="1.0"/>
<circle cx="461.9" cy="510.1" r="1.3" fill="none" stroke="#e62ad6" stroke-width="1.0"/>
<circle cx="465.6" cy="509.5" r="1.3" fill="none" stroke="#e62ad6" stroke-width="1.0"/>
<circle cx="466.0" cy="512.2" r="1.3" fill="none" stroke="#e62ad6" stroke-width="1.0"/>
<circle cx="473.3" cy="511.6" r="1.3" fill="none" stroke="#e62ad6" stroke-width="1.0"/>
<circle cx="465.0" cy="512.2" r="1.3" fill="none" stroke="#e62ad6" stroke-width="1.0"/>
<circle cx="472.2" cy="512.2" r="1.3" fill="none" stroke="#e62ad6" stroke-width="1.0"/>
<circle cx="475.8" cy="512.2" r="1.3" fill="none" stroke="#e62ad6" stroke-width="1.0"/>
<circle cx="480.7" cy="512.2" r="1.3" fill="none" stroke="#e62ad6" stroke-width="1.0"/>
<circle cx="485.5" cy="512.2" r="1.3" fill="none" stroke="#e62ad6" stroke-width="1.0"/>
<path d="M369.0,513.1 C372.5,513.0 385.2,513.2 389.9,512.6 C394.6,512.0 394.6,511.4 397.2,509.5 C399.8,507.6 402.7,505.2 405.5,501.2 C408.3,497.2 411.3,490.6 413.9,485.5 C416.5,480.4 418.8,475.2 421.2,470.9 C423.6,466.5 426.6,462.2 428.5,459.4 C430.4,456.6 431.2,453.3 432.6,454.2 C434.0,455.1 435.4,460.1 436.8,464.6 C438.2,469.1 439.6,476.1 441.0,481.3 C442.4,486.5 443.8,491.9 445.2,495.9 C446.6,499.9 447.9,503.0 449.3,505.3 C450.7,507.6 451.9,508.4 453.5,509.5 C455.1,510.6 455.9,511.1 458.7,511.6 C461.4,512.1 465.3,512.3 470.0,512.4 C474.7,512.5 483.9,512.4 486.7,512.4" fill="none" stroke="#e62ad6" stroke-width="1.5"/>
<circle cx="423.9" cy="437.5" r="1.3" fill="none" stroke="#1a1ad0" stroke-width="1.0"/>
<circle cx="430.6" cy="442.1" r="1.3" fill="none" stroke="#1a1ad0" stroke-width="1.0"/>
<circle cx="434.1" cy="451.5" r="1.3" fill="none" stroke="#1a1ad0" stroke-width="1.0"/>
<circle cx="433.7" cy="458.4" r="1.3" fill="none" stroke="#1a1ad0" stroke-width="1.0"/>
<circle cx="441.4" cy="460.5" r="1.3" fill="none" stroke="#1a1ad0" stroke-width="1.0"/>
<circle cx="436.8" cy="469.9" r="1.3" fill="none" stroke="#1a1ad0" stroke-width="1.0"/>
<circle cx="443.1" cy="466.7" r="1.3" fill="none" stroke="#1a1ad0" stroke-width="1.0"/>
<circle cx="447.3" cy="478.8" r="1.3" fill="none" stroke="#1a1ad0" stroke-width="1.0"/>
<circle cx="450.8" cy="471.3" r="1.3" fill="none" stroke="#1a1ad0" stroke-width="1.0"/>
<circle cx="451.8" cy="475.7" r="1.3" fill="none" stroke="#1a1ad0" stroke-width="1.0"/>
<circle cx="460.8" cy="475.1" r="1.3" fill="none" stroke="#1a1ad0" stroke-width="1.0"/>
<circle cx="454.6" cy="485.1" r="1.3" fill="none" stroke="#1a1ad0" stroke-width="1.0"/>
<circle cx="458.7" cy="485.5" r="1.3" fill="none" stroke="#1a1ad0" stroke-width="1.0"/>
<circle cx="465.0" cy="484.5" r="1.3" fill="none" stroke="#1a1ad0" stroke-width="1.0"/>
<circle cx="469.2" cy="484.5" r="1.3" fill="none" stroke="#1a1ad0" stroke-width="1.0"/>
<circle cx="473.3" cy="484.1" r="1.3" fill="none" stroke="#1a1ad0" stroke-width="1.0"/>
<circle cx="439.5" cy="470.5" r="1.3" fill="none" stroke="#1a1ad0" stroke-width="1.0"/>
<circle cx="445.5" cy="474.0" r="1.3" fill="none" stroke="#1a1ad0" stroke-width="1.0"/>
<circle cx="466.2" cy="484.4" r="1.3" fill="none" stroke="#1a1ad0" stroke-width="1.0"/>
<circle cx="469.8" cy="482.0" r="1.3" fill="none" stroke="#1a1ad0" stroke-width="1.0"/>
<circle cx="471.7" cy="484.4" r="1.3" fill="none" stroke="#1a1ad0" stroke-width="1.0"/>
<circle cx="475.1" cy="479.5" r="1.3" fill="none" stroke="#1a1ad0" stroke-width="1.0"/>
<circle cx="475.8" cy="485.6" r="1.3" fill="none" stroke="#1a1ad0" stroke-width="1.0"/>
<circle cx="478.2" cy="492.8" r="1.3" fill="none" stroke="#1a1ad0" stroke-width="1.0"/>
<circle cx="483.1" cy="482.0" r="1.3" fill="none" stroke="#1a1ad0" stroke-width="1.0"/>
<circle cx="483.8" cy="492.3" r="1.3" fill="none" stroke="#1a1ad0" stroke-width="1.0"/>
<circle cx="486.7" cy="488.0" r="1.3" fill="none" stroke="#1a1ad0" stroke-width="1.0"/>
<circle cx="490.3" cy="492.8" r="1.3" fill="none" stroke="#1a1ad0" stroke-width="1.0"/>
<circle cx="493.9" cy="490.4" r="1.3" fill="none" stroke="#1a1ad0" stroke-width="1.0"/>
<circle cx="495.1" cy="497.1" r="1.3" fill="none" stroke="#1a1ad0" stroke-width="1.0"/>
<circle cx="497.5" cy="488.0" r="1.3" fill="none" stroke="#1a1ad0" stroke-width="1.0"/>
<circle cx="501.1" cy="495.2" r="1.3" fill="none" stroke="#1a1ad0" stroke-width="1.0"/>
<circle cx="508.3" cy="495.7" r="1.3" fill="none" stroke="#1a1ad0" stroke-width="1.0"/>
<circle cx="512.0" cy="498.1" r="1.3" fill="none" stroke="#1a1ad0" stroke-width="1.0"/>
<circle cx="515.6" cy="498.8" r="1.3" fill="none" stroke="#1a1ad0" stroke-width="1.0"/>
<circle cx="518.0" cy="492.8" r="1.3" fill="none" stroke="#1a1ad0" stroke-width="1.0"/>
<circle cx="520.9" cy="500.0" r="1.3" fill="none" stroke="#1a1ad0" stroke-width="1.0"/>
<circle cx="522.8" cy="494.0" r="1.3" fill="none" stroke="#1a1ad0" stroke-width="1.0"/>
<circle cx="528.8" cy="494.0" r="1.3" fill="none" stroke="#1a1ad0" stroke-width="1.0"/>
<circle cx="532.4" cy="495.2" r="1.3" fill="none" stroke="#1a1ad0" stroke-width="1.0"/>
<circle cx="535.3" cy="500.5" r="1.3" fill="none" stroke="#1a1ad0" stroke-width="1.0"/>
<circle cx="537.2" cy="496.4" r="1.3" fill="none" stroke="#1a1ad0" stroke-width="1.0"/>
<circle cx="539.6" cy="500.5" r="1.3" fill="none" stroke="#1a1ad0" stroke-width="1.0"/>
<circle cx="542.5" cy="497.1" r="1.3" fill="none" stroke="#1a1ad0" stroke-width="1.0"/>
<circle cx="550.5" cy="502.4" r="1.3" fill="none" stroke="#1a1ad0" stroke-width="1.0"/>
<circle cx="555.3" cy="503.1" r="1.3" fill="none" stroke="#1a1ad0" stroke-width="1.0"/>
<circle cx="560.1" cy="499.5" r="1.3" fill="none" stroke="#1a1ad0" stroke-width="1.0"/>
<circle cx="566.1" cy="505.3" r="1.3" fill="none" stroke="#1a1ad0" stroke-width="1.0"/>
<circle cx="568.1" cy="500.0" r="1.3" fill="none" stroke="#1a1ad0" stroke-width="1.0"/>
<circle cx="572.2" cy="506.0" r="1.3" fill="none" stroke="#1a1ad0" stroke-width="1.0"/>
<circle cx="577.7" cy="502.4" r="1.3" fill="none" stroke="#1a1ad0" stroke-width="1.0"/>
<circle cx="583.0" cy="503.6" r="1.3" fill="none" stroke="#1a1ad0" stroke-width="1.0"/>
<circle cx="584.2" cy="507.2" r="1.3" fill="none" stroke="#1a1ad0" stroke-width="1.0"/>
<circle cx="586.6" cy="504.3" r="1.3" fill="none" stroke="#1a1ad0" stroke-width="1.0"/>
<circle cx="589.0" cy="507.7" r="1.3" fill="none" stroke="#1a1ad0" stroke-width="1.0"/>
<circle cx="596.2" cy="504.8" r="1.3" fill="none" stroke="#1a1ad0" stroke-width="1.0"/>
<circle cx="601.0" cy="509.6" r="1.3" fill="none" stroke="#1a1ad0" stroke-width="1.0"/>
<circle cx="604.7" cy="506.0" r="1.3" fill="none" stroke="#1a1ad0" stroke-width="1.0"/>
<circle cx="607.1" cy="508.4" r="1.3" fill="none" stroke="#1a1ad0" stroke-width="1.0"/>
<circle cx="419.8" cy="490.9" r="1.3" fill="none" stroke="#1a1ad0" stroke-width="1.0"/>
<circle cx="418.5" cy="503.8" r="1.3" fill="none" stroke="#1a1ad0" stroke-width="1.0"/>
<circle cx="411.0" cy="496.3" r="1.3" fill="none" stroke="#1a1ad0" stroke-width="1.0"/>
<circle cx="417.9" cy="494.0" r="1.3" fill="none" stroke="#1a1ad0" stroke-width="1.0"/>
<circle cx="420.1" cy="497.5" r="1.3" fill="none" stroke="#1a1ad0" stroke-width="1.0"/>
<circle cx="413.0" cy="501.6" r="1.3" fill="none" stroke="#1a1ad0" stroke-width="1.0"/>
<circle cx="420.7" cy="502.2" r="1.3" fill="none" stroke="#1a1ad0" stroke-width="1.0"/>
<circle cx="423.5" cy="499.5" r="1.3" fill="none" stroke="#1a1ad0" stroke-width="1.0"/>
<circle cx="418.7" cy="491.8" r="1.3" fill="none" stroke="#1a1ad0" stroke-width="1.0"/>
<circle cx="420.5" cy="495.0" r="1.3" fill="none" stroke="#1a1ad0" stroke-width="1.0"/>
<circle cx="416.7" cy="492.0" r="1.3" fill="none" stroke="#1a1ad0" stroke-width="1.0"/>
<circle cx="414.8" cy="495.4" r="1.3" fill="none" stroke="#1a1ad0" stroke-width="1.0"/>
<circle cx="422.9" cy="488.5" r="1.3" fill="none" stroke="#1a1ad0" stroke-width="1.0"/>
<circle cx="413.1" cy="498.9" r="1.3" fill="none" stroke="#1a1ad0" stroke-width="1.0"/>
<circle cx="423.5" cy="500.5" r="1.3" fill="none" stroke="#1a1ad0" stroke-width="1.0"/>
<circle cx="411.5" cy="486.5" r="1.3" fill="none" stroke="#1a1ad0" stroke-width="1.0"/>
<circle cx="419.6" cy="494.4" r="1.3" fill="none" stroke="#1a1ad0" stroke-width="1.0"/>
<circle cx="414.3" cy="502.3" r="1.3" fill="none" stroke="#1a1ad0" stroke-width="1.0"/>
<circle cx="422.3" cy="498.5" r="1.3" fill="none" stroke="#1a1ad0" stroke-width="1.0"/>
<circle cx="419.2" cy="499.8" r="1.3" fill="none" stroke="#1a1ad0" stroke-width="1.0"/>
<circle cx="424.0" cy="500.6" r="1.3" fill="none" stroke="#1a1ad0" stroke-width="1.0"/>
<circle cx="420.2" cy="500.3" r="1.3" fill="none" stroke="#1a1ad0" stroke-width="1.0"/>
<circle cx="412.7" cy="503.7" r="1.3" fill="none" stroke="#1a1ad0" stroke-width="1.0"/>
<circle cx="421.7" cy="500.2" r="1.3" fill="none" stroke="#1a1ad0" stroke-width="1.0"/>
<circle cx="411.2" cy="494.9" r="1.3" fill="none" stroke="#1a1ad0" stroke-width="1.0"/>
<circle cx="421.3" cy="489.5" r="1.3" fill="none" stroke="#1a1ad0" stroke-width="1.0"/>
<circle cx="417.6" cy="502.5" r="1.3" fill="none" stroke="#1a1ad0" stroke-width="1.0"/>
<circle cx="413.6" cy="505.2" r="1.3" fill="none" stroke="#1a1ad0" stroke-width="1.0"/>
<circle cx="420.3" cy="497.1" r="1.3" fill="none" stroke="#1a1ad0" stroke-width="1.0"/>
<circle cx="419.5" cy="500.8" r="1.3" fill="none" stroke="#1a1ad0" stroke-width="1.0"/>
<circle cx="418.7" cy="503.1" r="1.3" fill="none" stroke="#1a1ad0" stroke-width="1.0"/>
<circle cx="415.9" cy="495.9" r="1.3" fill="none" stroke="#1a1ad0" stroke-width="1.0"/>
<circle cx="422.1" cy="497.9" r="1.3" fill="none" stroke="#1a1ad0" stroke-width="1.0"/>
<circle cx="415.1" cy="502.2" r="1.3" fill="none" stroke="#1a1ad0" stroke-width="1.0"/>
<circle cx="423.6" cy="495.8" r="1.3" fill="none" stroke="#1a1ad0" stroke-width="1.0"/>
<circle cx="413.3" cy="497.2" r="1.3" fill="none" stroke="#1a1ad0" stroke-width="1.0"/>
<circle cx="417.8" cy="496.4" r="1.3" fill="none" stroke="#1a1ad0" stroke-width="1.0"/>
<circle cx="423.4" cy="493.1" r="1.3" fill="none" stroke="#1a1ad0" stroke-width="1.0"/>
<circle cx="422.8" cy="492.0" r="1.3" fill="none" stroke="#1a1ad0" stroke-width="1.0"/>
<circle cx="415.5" cy="500.7" r="1.3" fill="none" stroke="#1a1ad0" stroke-width="1.0"/>
<circle cx="422.4" cy="501.8" r="1.3" fill="none" stroke="#1a1ad0" stroke-width="1.0"/>
<circle cx="419.5" cy="498.5" r="1.3" fill="none" stroke="#1a1ad0" stroke-width="1.0"/>
<circle cx="418.8" cy="500.4" r="1.3" fill="none" stroke="#1a1ad0" stroke-width="1.0"/>
<circle cx="417.7" cy="499.1" r="1.3" fill="none" stroke="#1a1ad0" stroke-width="1.0"/>
<circle cx="420.4" cy="497.8" r="1.3" fill="none" stroke="#1a1ad0" stroke-width="1.0"/>
<circle cx="421.1" cy="500.4" r="1.3" fill="none" stroke="#1a1ad0" stroke-width="1.0"/>
<path d="M411.8,499.1 C412.2,498.8 413.4,496.6 414.0,497.0 C414.6,497.4 414.9,501.3 415.5,501.5 C416.1,501.7 416.9,497.9 417.5,498.0 C418.1,498.1 418.4,501.8 419.0,502.0 C419.6,502.2 420.3,499.3 421.0,499.5 C421.7,499.7 422.3,502.6 423.0,503.0 C423.7,503.4 424.6,504.8 425.3,502.2 C426.0,499.6 426.7,493.5 427.4,487.6 C428.1,481.7 428.8,471.4 429.5,466.7 C430.2,462.0 430.9,460.8 431.6,459.4 C432.3,458.0 433.0,457.7 433.7,458.4 C434.4,459.1 434.9,461.9 435.8,463.6 C436.7,465.3 437.7,467.4 438.9,468.8 C440.1,470.2 441.9,470.8 443.1,472.0 C444.3,473.2 445.0,475.2 446.2,476.1 C447.4,477.0 449.2,476.5 450.4,477.2 C451.6,477.9 452.3,479.6 453.5,480.3 C454.7,481.0 456.5,481.4 457.7,481.3 C458.9,481.2 459.6,479.5 460.8,479.7 C462.0,479.9 463.5,481.6 465.0,482.4 C466.5,483.2 468.2,484.3 469.8,484.4 C471.4,484.5 473.2,482.8 474.6,483.2 C476.0,483.6 476.8,485.9 478.2,486.8 C479.6,487.7 481.5,487.8 483.1,488.5 C484.7,489.2 486.3,490.6 487.9,490.9 C489.5,491.2 491.1,489.9 492.7,490.4 C494.3,490.9 495.9,493.2 497.5,494.0 C499.1,494.8 500.5,494.9 502.3,495.2 C504.1,495.5 506.5,495.2 508.3,495.7 C510.1,496.2 511.6,498.0 513.2,498.1 C514.8,498.2 516.6,497.1 518.0,496.4 C519.4,495.7 520.2,494.2 521.6,494.0 C523.0,493.8 524.6,494.7 526.4,495.2 C528.2,495.7 530.6,496.5 532.4,497.1 C534.2,497.7 535.6,498.6 537.2,498.8 C538.8,499.0 540.3,497.8 542.1,498.1 C543.9,498.4 546.3,499.8 548.1,500.5 C549.9,501.2 551.1,502.4 552.9,502.4 C554.7,502.4 557.1,500.6 558.9,500.5 C560.7,500.4 562.1,501.2 563.7,501.9 C565.3,502.6 566.9,504.5 568.5,504.8 C570.1,505.1 571.8,503.9 573.4,503.6 C575.0,503.3 576.4,502.5 578.2,502.9 C580.0,503.3 582.2,505.6 584.2,506.0 C586.2,506.4 588.2,505.5 590.2,505.3 C592.2,505.1 594.2,504.5 596.2,504.8 C598.2,505.1 600.5,506.6 602.3,507.2 C604.1,507.8 606.2,508.2 607.0,508.4" fill="none" stroke="#1a1ad0" stroke-width="1.35"/>
</g>
<rect x="533.2" y="286.9" width="68.4" height="68.8" fill="#fff" stroke="#555" stroke-width="0.8"/>
<circle cx="544.5" cy="293.2" r="1.3" fill="none" stroke="#a0a0a0" stroke-width="0.9"/>
<text transform="translate(556.0,296.5) scale(1.265,1)" font-family="Liberation Sans" font-size="9.6" fill="#222" stroke="#222" stroke-width="0.3" text-anchor="start" font-weight="normal" font-style="normal" >SN</text>
<path d="M535.2,304.4 h18.5" stroke="#a0a0a0" stroke-width="1.0"/>
<text transform="translate(556.0,307.8) scale(1.265,1)" font-family="Liberation Sans" font-size="9.6" fill="#222" stroke="#222" stroke-width="0.3" text-anchor="start" font-weight="normal" font-style="normal" >interpos</text>
<circle cx="544.5" cy="315.7" r="1.3" fill="none" stroke="#e62ad6" stroke-width="0.9"/>
<text transform="translate(556.0,319.0) scale(1.265,1)" font-family="Liberation Sans" font-size="9.6" fill="#222" stroke="#222" stroke-width="0.3" text-anchor="start" font-weight="normal" font-style="normal" >SP2</text>
<path d="M535.2,326.9 h18.5" stroke="#e62ad6" stroke-width="1.5"/>
<text transform="translate(556.0,330.2) scale(1.265,1)" font-family="Liberation Sans" font-size="9.6" fill="#222" stroke="#222" stroke-width="0.3" text-anchor="start" font-weight="normal" font-style="normal" >interpos</text>
<circle cx="544.5" cy="338.2" r="1.3" fill="none" stroke="#1a1ad0" stroke-width="0.9"/>
<text transform="translate(556.0,341.5) scale(1.265,1)" font-family="Liberation Sans" font-size="9.6" fill="#222" stroke="#222" stroke-width="0.3" text-anchor="start" font-weight="normal" font-style="normal" >SP4</text>
<path d="M535.2,349.4 h18.5" stroke="#1a1ad0" stroke-width="1.5"/>
<text transform="translate(556.0,352.8) scale(1.265,1)" font-family="Liberation Sans" font-size="9.6" fill="#222" stroke="#222" stroke-width="0.3" text-anchor="start" font-weight="normal" font-style="normal" >interpos</text>
<g transform="translate(611.8,384.0) rotate(90) scale(0.925,1)"><text font-family="Liberation Sans" font-style="italic" font-size="12.6" text-anchor="start"><tspan fill="#747474" stroke="#747474" stroke-width="0.2">66176</tspan><tspan fill="#000" font-weight="bold">,</tspan><tspan fill="#ff19e6" font-weight="bold">68381</tspan></text></g>
<text font-family="Liberation Sans" fill="#000" stroke="#000" stroke-width="0.35"><tspan x="75.6" y="95.9" font-size="27.3">b</tspan><tspan x="90.2" y="95.9" font-size="26">)</tspan></text>
<text font-family="Liberation Sans" fill="#000" stroke="#000" stroke-width="0.35"><tspan x="43.5" y="258.6" font-size="26">a</tspan><tspan x="57.0" y="258.6" font-size="26">)</tspan></text>
<text font-family="Liberation Sans" fill="#000" stroke="#000" stroke-width="0.35"><tspan x="73.3" y="399.4" font-size="25.2">c</tspan><tspan x="86.2" y="399.4" font-size="26">)</tspan></text>
<text font-family="Liberation Sans" fill="#000" stroke="#000" stroke-width="0.35"><tspan x="362.8" y="50.9" font-size="27">d</tspan><tspan x="377.6" y="50.9" font-size="26">)</tspan></text>
<text font-family="Liberation Sans" fill="#000" stroke="#000" stroke-width="0.35"><tspan x="357.4" y="347.0" font-size="26">e</tspan><tspan x="371.4" y="347.0" font-size="26">)</tspan></text>
</g>
</svg>
</body></html>
